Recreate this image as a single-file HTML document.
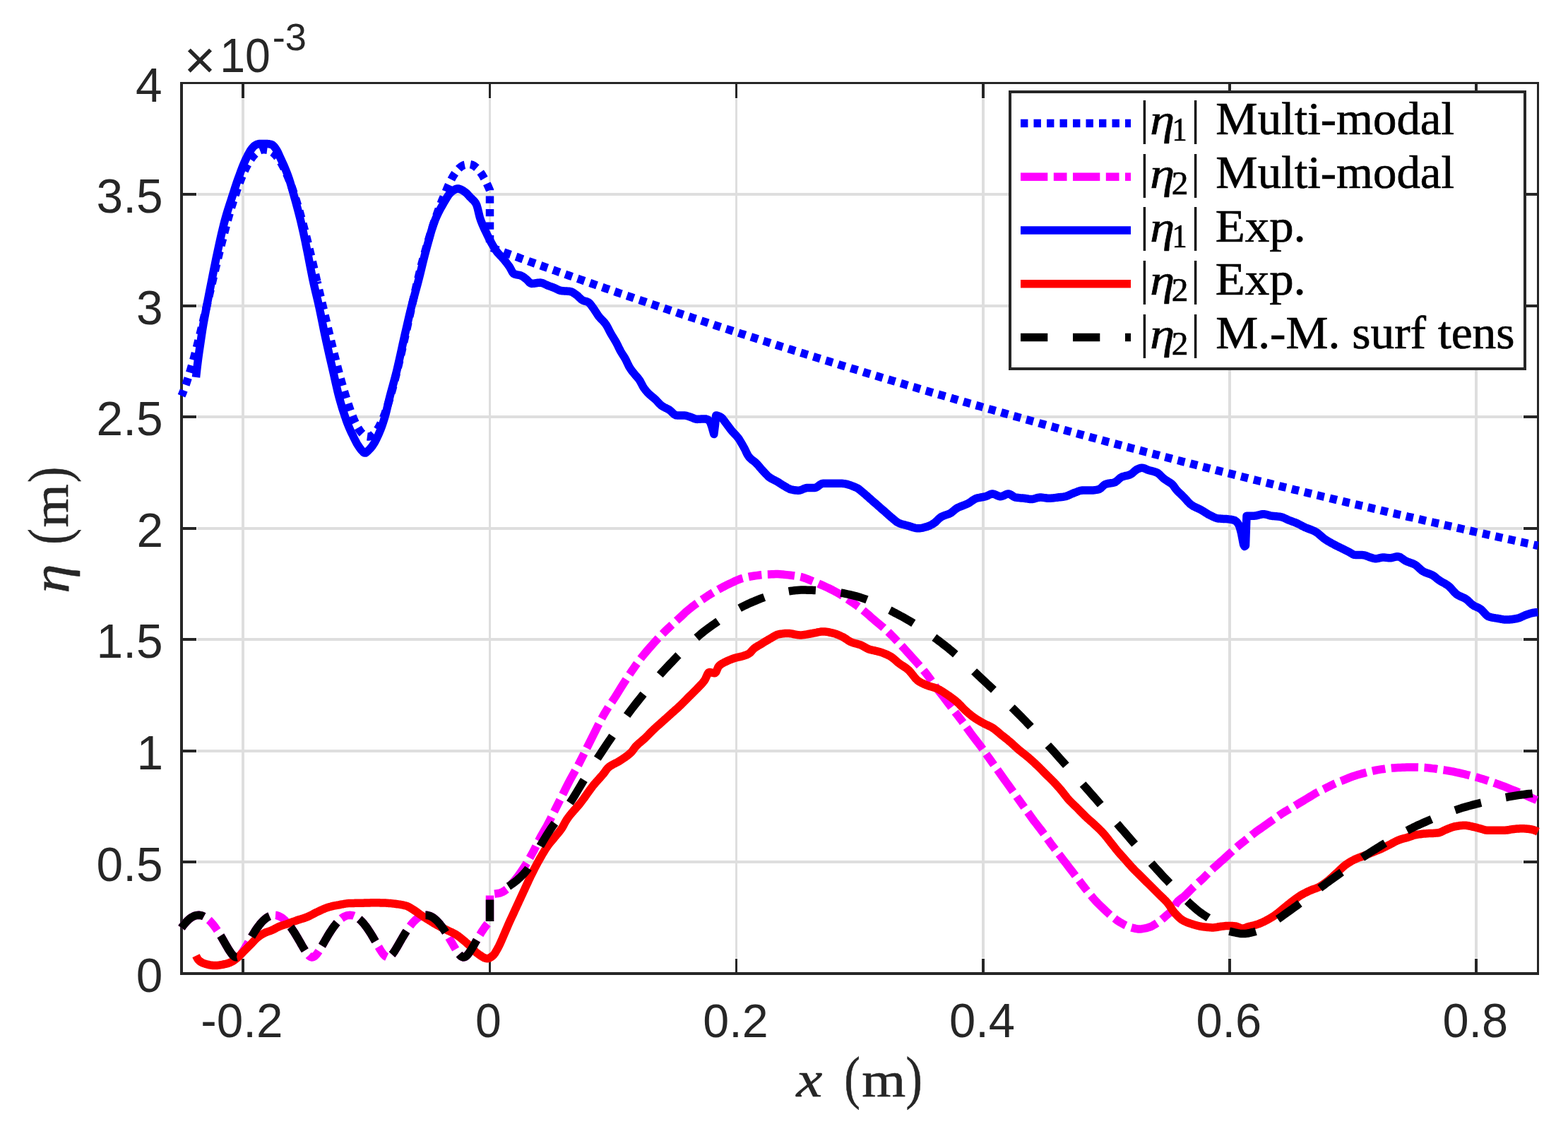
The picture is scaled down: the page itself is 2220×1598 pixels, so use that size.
<!DOCTYPE html>
<html lang="en"><head><meta charset="utf-8"><title>Wave amplitude: multi-modal model vs experiment</title>
<style>html,body{margin:0;padding:0;background:#fff}body{width:2220px;height:1598px;overflow:hidden}svg{display:block}</style></head><body>
<svg width="2220" height="1598" viewBox="0 0 2220 1598">
<rect width="2220" height="1598" fill="#fff"/>
<path d="M342 116h4V1380h-4zM692 116h3V1380h-3zM1041 116h3V1380h-3zM1390 116h4V1380h-4zM1739 116h4V1380h-4zM2088 116h4V1380h-4zM255 1218H2179v4H255zM255 1061H2179v4H255zM255 903H2179v4H255zM255 746H2179v4H255zM255 588H2179v4H255zM255 431H2179v4H255zM255 273H2179v4H255z" fill="#dedede"/>
<path d="M342 1356h4v1h-4zM342 139h4v1h-4zM692 1356h3v1h-3zM692 139h3v1h-3zM1041 1356h3v1h-3zM1041 139h3v1h-3zM1390 1356h4v1h-4zM1390 139h4v1h-4zM1739 1356h4v1h-4zM1739 139h4v1h-4zM2088 1356h4v1h-4zM2088 139h4v1h-4zM278 1218h1v4h-1zM2156 1218h1v4h-1zM278 1061h1v4h-1zM2156 1061h1v4h-1zM278 903h1v4h-1zM2156 903h1v4h-1zM278 746h1v4h-1zM2156 746h1v4h-1zM278 588h1v4h-1zM2156 588h1v4h-1zM278 431h1v4h-1zM2156 431h1v4h-1zM278 273h1v4h-1zM2156 273h1v4h-1z" fill="#fff"/>
<path d="M255 116H2179V1380H255zM259 119V1376H2176V119zM342 1357h4v19h-4zM342 119h4v20h-4zM692 1357h3v19h-3zM692 119h3v20h-3zM1041 1357h3v19h-3zM1041 119h3v20h-3zM1390 1357h4v19h-4zM1390 119h4v20h-4zM1739 1357h4v19h-4zM1739 119h4v20h-4zM2088 1357h4v19h-4zM2088 119h4v20h-4zM259 1218h19v4h-19zM2157 1218h19v4h-19zM259 1061h19v4h-19zM2157 1061h19v4h-19zM259 903h19v4h-19zM2157 903h19v4h-19zM259 746h19v4h-19zM2157 746h19v4h-19zM259 588h19v4h-19zM2157 588h19v4h-19zM259 431h19v4h-19zM2157 431h19v4h-19zM259 273h19v4h-19zM2157 273h19v4h-19z" fill="#262626" fill-rule="evenodd"/>
<g fill="none" stroke-width="11.5" stroke-linejoin="round" shape-rendering="auto">
<path d="M257 560.3L258.5 556.8L260 553L261.5 549L263 544.8L264.5 540.4L266 535.8L267.5 531.1L269 526.1L270.5 521L272 515.8L273.5 510.4L275 504.9L276.5 499.3L278 493.5L279.5 487.6L281 481.7L282.5 475.7L284 469.5L285.5 463.3L287 457.1L288.5 450.8L290 444.5L291.5 438.1L293 431.7L294.5 425.3L296 418.9L297.5 412.4L299 406L300.5 399.6L302 393.2L303.5 386.9L305 380.5L306.5 374.3L308 368L309.5 361.8L311 355.7L312.5 349.7L314 343.7L315.5 337.8L317 332L318.5 326.2L320 320.6L321.5 315.1L323 309.6L324.5 304.3L326 299.1L327.5 294L329 289L330.5 284.2L332 279.5L333.5 274.9L335 270.4L336.5 266.1L338 262L339.5 258L341 254.1L342.5 250.4L344 246.8L345.5 243.4L347 240.2L348.5 237.1L350 234.2L351.5 231.5L353 228.9L354.5 226.5L356 224.3L357.5 222.3L359 220.4L360.5 218.7L362 217.2L363.5 215.9L365 214.7L366.5 213.7L368 212.9L369.5 212.3L371 211.9L372.5 211.7L374 211.6L375.5 211.7L377 212.1L378.5 212.3L380 212.6L381.5 213.1L383 213.8L384.5 214.7L386 215.7L387.5 216.9L389 218.4L390.5 219.9L392 221.7L393.5 223.7L395 225.8L396.5 228.1L398 230.6L399.5 233.2L401 236L402.5 239L404 242.2L405.5 245.5L407 249L408.5 252.6L410 256.4L411.5 260.3L413 264.4L414.5 268.7L416 273.1L417.5 277.6L419 282.3L420.5 287.1L422 292.1L423.5 297.2L425 302.4L426.5 307.7L428 313.1L429.5 318.7L431 324.4L432.5 330.1L434 336L435.5 342L437 348L438.5 354.2L440 360.4L441.5 366.7L443 373.1L444.5 379.5L446 386L447.5 392.5L449 399.1" stroke="#0000ff" stroke-dasharray="10.4 8.1" stroke-dashoffset="2.0"/>
<path d="M449 399.1L450.5 405.4L452 411.8L453.5 418.1L455 424.5L456.5 430.9L458 437.3L459.5 443.7L461 450.1L462.5 456.5L464 462.8L465.5 469.1L467 475.4L468.5 481.7L470 487.9L471.5 494L473 500.1L474.5 506.1L476 512.1L477.5 517.9L479 523.7L480.5 529.3L482 534.9L483.5 540.3L485 545.6L486.5 550.8L488 555.8L489.5 560.7L491 565.4L492.5 570L494 574.6L495.5 579L497 583.2L498.5 587.2L500 591L501.5 594.6L503 597.9L504.5 601L506 603.9L507.5 606.5L509 608.8L510.5 610.9L512 612.7L513.5 614.3L515 615.6L516.5 616.6L518 617.3L519.5 617.8L521 618L522.5 617.9L524 617.6L525.5 617L527 616.1L528.5 614.9L530 613.4L531.5 611.7L533 609.8L534.5 607.5L536 605.1L537.5 602.3L539 599.4L540.5 596.2L542 592.7L543.5 589.1L545 585.2L546.5 580.9L548 576.4L549.5 571.8L551 566.9L552.5 561.8L554 556.5L555.5 551.1L557 545.5L558.5 539.8L560 533.9L561.5 527.9L563 521.8L564.5 515.5L566 509.2L567.5 502.8L569 496.3L570.5 489.7L572 483.1L573.5 476.4L575 469.7L576.5 463L578 456.2L579.5 449.4L581 442.7L582.5 435.9L584 429.1L585.5 422.4L587 415.6L588.5 409.0" stroke="#0000ff" stroke-dasharray="10.4 8.1" stroke-dashoffset="7.3"/>
<path d="M588.5 409L590 402.6L591.5 396.3L593 390L594.5 383.8L596 377.7L597.5 371.7L599 366.3L600.5 360.9L602 355.7L603.5 350.5L605 345.4L606.5 340.3L608 335.4L609.5 330.5L611 325.7L612.5 321L614 316.4L615.5 311.9L617 307.6L618.5 303.3L620 299.1L621.5 295L623 291.1L624.5 287.2L626 283.5L627.5 279.9L629 276.4L630.5 273.1L632 269.3L633.5 265.7L635 262.2L636.5 259L638 255.9L639.5 253L641 250.3L642.5 247.8L644 245.5L645.5 243.3L647 241.4L648.5 239.7L650 238.1L651.5 236.8L653 235.7L654.5 234.7L656 234L657.5 233.5L659 233.2L660.5 233L662 232.7L663.5 232.5L665 232.5L666.5 232.8L668 233.2L669.5 233.8L671 234.6L672.5 235.7L674 236.9L675.5 238.2L677 239.8L678.5 241.6L680 243.6L681.5 245.7L683 248L684.5 250.6L686 253.3L687.5 256.1L689 259.2L690.5 262.4L692 265.8L693.5 269.3L693.5 349.7" stroke="#0000ff" stroke-dasharray="10.4 8.1" stroke-dashoffset="3.3"/>
<path d="M693.5 349.7L697.5 351.2L701.5 352.7L705.5 354.1L709.5 355.6L713.5 357.1L717.5 358.5L721.5 360L725.5 361.4L729.5 362.9L733.5 364.3L737.5 365.8L741.5 367.2L745.5 368.6L749.5 370.1L753.5 371.5L757.5 373L761.5 374.4L765.5 375.8L769.5 377.2L773.5 378.7L777.5 380.1L781.5 381.5L785.5 382.9L789.5 384.4L793.5 385.8L797.5 387.2L801.5 388.6L805.5 390L809.5 391.4L813.5 392.8L817.5 394.2L821.5 395.6L825.5 397L829.5 398.4L833.5 399.8L837.5 401.2L841.5 402.6L845.5 404L849.5 405.4L853.5 406.8L857.5 408.2L861.5 409.5L865.5 410.9L869.5 412.3L873.5 413.7L877.5 415.1L881.5 416.4L885.5 417.8L889.5 419.2L893.5 420.5L897.5 421.9L901.5 423.3L905.5 424.6L909.5 426L913.5 427.3L917.5 428.7L921.5 430.1L925.5 431.4L929.5 432.8L933.5 434.1L937.5 435.4L941.5 436.8L945.5 438.1L949.5 439.5L953.5 440.8L957.5 442.1L961.5 443.5L965.5 444.8L969.5 446.1L973.5 447.5L977.5 448.8L981.5 450.1L985.5 451.4L989.5 452.8L993.5 454.1L997.5 455.4L1001.5 456.7L1005.5 458L1009.5 459.3L1013.5 460.7L1017.5 462L1021.5 463.3L1025.5 464.6L1029.5 465.9L1033.5 467.2L1037.5 468.5L1041.5 469.8L1045.5 471.1L1049.5 472.4L1053.5 473.6L1057.5 474.9L1061.5 476.2L1065.5 477.5L1069.5 478.8L1073.5 480.1L1077.5 481.4L1081.5 482.6L1085.5 483.9L1089.5 485.2L1093.5 486.5L1097.5 487.7L1101.5 489L1105.5 490.3L1109.5 491.5L1113.5 492.8L1117.5 494.1L1121.5 495.3L1125.5 496.6L1129.5 497.8L1133.5 499.1L1137.5 500.3L1141.5 501.6L1145.5 502.8L1149.5 504.1L1153.5 505.3L1157.5 506.6L1161.5 507.8L1165.5 509.1L1169.5 510.3L1173.5 511.5L1177.5 512.8L1181.5 514L1185.5 515.2L1189.5 516.5L1193.5 517.7L1197.5 518.9L1201.5 520.1L1205.5 521.4L1209.5 522.6L1213.5 523.8L1217.5 525L1221.5 526.2L1225.5 527.5L1229.5 528.7L1233.5 529.9L1237.5 531.1L1241.5 532.3L1245.5 533.5L1249.5 534.7L1253.5 535.9L1257.5 537.1L1261.5 538.3L1265.5 539.5L1269.5 540.7L1273.5 541.9L1277.5 543.1L1281.5 544.3L1285.5 545.5L1289.5 546.7L1293.5 547.8L1297.5 549L1301.5 550.2L1305.5 551.4L1309.5 552.6L1313.5 553.7L1317.5 554.9L1321.5 556.1L1325.5 557.3L1329.5 558.4L1333.5 559.6L1337.5 560.8L1341.5 561.9L1345.5 563.1L1349.5 564.3L1353.5 565.4L1357.5 566.6L1361.5 567.7L1365.5 568.9L1369.5 570L1373.5 571.2L1377.5 572.3L1381.5 573.5L1385.5 574.6L1389.5 575.8L1393.5 576.9L1397.5 578.1L1401.5 579.2L1405.5 580.3L1409.5 581.5L1413.5 582.6L1417.5 583.8L1421.5 584.9L1425.5 586L1429.5 587.1L1433.5 588.3L1437.5 589.4L1441.5 590.5L1445.5 591.6L1449.5 592.8L1453.5 593.9L1457.5 595L1461.5 596.1L1465.5 597.2L1469.5 598.3L1473.5 599.5L1477.5 600.6L1481.5 601.7L1485.5 602.8L1489.5 603.9L1493.5 605L1497.5 606.1L1501.5 607.2L1505.5 608.3L1509.5 609.4L1513.5 610.5L1517.5 611.6L1521.5 612.7L1525.5 613.8L1529.5 614.9L1533.5 615.9L1537.5 617L1541.5 618.1L1545.5 619.2L1549.5 620.3L1553.5 621.4L1557.5 622.4L1561.5 623.5L1565.5 624.6L1569.5 625.7L1573.5 626.7L1577.5 627.8L1581.5 628.9L1585.5 629.9L1589.5 631L1593.5 632.1L1597.5 633.1L1601.5 634.2L1605.5 635.3L1609.5 636.3L1613.5 637.4L1617.5 638.4L1621.5 639.5L1625.5 640.5L1629.5 641.6L1633.5 642.6L1637.5 643.7L1641.5 644.7L1645.5 645.8L1649.5 646.8L1653.5 647.9L1657.5 648.9L1661.5 650L1665.5 651L1669.5 652L1673.5 653.1L1677.5 654.1L1681.5 655.1L1685.5 656.2L1689.5 657.2L1693.5 658.2L1697.5 659.2L1701.5 660.3L1705.5 661.3L1709.5 662.3L1713.5 663.3L1717.5 664.3L1721.5 665.4L1725.5 666.4L1729.5 667.4L1733.5 668.4L1737.5 669.4L1741.5 670.4L1745.5 671.4L1749.5 672.4L1753.5 673.5L1757.5 674.5L1761.5 675.5L1765.5 676.5L1769.5 677.5L1773.5 678.5L1777.5 679.5L1781.5 680.5L1785.5 681.4L1789.5 682.4L1793.5 683.4L1797.5 684.4L1801.5 685.4L1805.5 686.4L1809.5 687.4L1813.5 688.4L1817.5 689.4L1821.5 690.3L1825.5 691.3L1829.5 692.3L1833.5 693.3L1837.5 694.2L1841.5 695.2L1845.5 696.2L1849.5 697.2L1853.5 698.1L1857.5 699.1L1861.5 700.1L1865.5 701L1869.5 702L1873.5 703L1877.5 703.9L1881.5 704.9L1885.5 705.9L1889.5 706.8L1893.5 707.8L1897.5 708.7L1901.5 709.7L1905.5 710.6L1909.5 711.6L1913.5 712.5L1917.5 713.5L1921.5 714.4L1925.5 715.4L1929.5 716.3L1933.5 717.3L1937.5 718.2L1941.5 719.1L1945.5 720.1L1949.5 721L1953.5 722L1957.5 722.9L1961.5 723.8L1965.5 724.8L1969.5 725.7L1973.5 726.6L1977.5 727.6L1981.5 728.5L1985.5 729.4L1989.5 730.3L1993.5 731.3L1997.5 732.2L2001.5 733.1L2005.5 734L2009.5 734.9L2013.5 735.8L2017.5 736.8L2021.5 737.7L2025.5 738.6L2029.5 739.5L2033.5 740.4L2037.5 741.3L2041.5 742.2L2045.5 743.1L2049.5 744L2053.5 744.9L2057.5 745.8L2061.5 746.7L2065.5 747.6L2069.5 748.5L2073.5 749.4L2077.5 750.3L2081.5 751.2L2085.5 752.1L2089.5 753L2093.5 753.9L2097.5 754.8L2101.5 755.7L2105.5 756.6L2109.5 757.5L2113.5 758.3L2117.5 759.2L2121.5 760.1L2125.5 761L2129.5 761.9L2133.5 762.8L2137.5 763.6L2141.5 764.5L2145.5 765.4L2149.5 766.3L2153.5 767.1L2157.5 768L2161.5 768.9L2165.5 769.7L2169.5 770.6L2173.5 771.5L2177.5 772.3L2177.5 772.3" stroke="#0000ff" stroke-dasharray="10.4 8.1" stroke-dashoffset="16.0"/>
<path d="M257 1313.3L258.5 1311.2L260 1309.3L261.5 1307.4L263 1305.7L264.5 1304.1L266 1302.6L267.5 1301.2L269 1300L270.5 1298.9L272 1298L273.5 1297.2L275 1296.5L276.5 1296L278 1295.6L279.5 1295.4L281 1295.3L282.5 1295.3L284 1295.6L285.5 1295.9L287 1296.4L288.5 1297.1L290 1297.9L291.5 1298.8L293 1299.9L294.5 1301.1L296 1302.4L297.5 1303.9L299 1305.5L300.5 1307.2L302 1309L303.5 1311L305 1313L306.5 1315.2L308 1317.4L309.5 1319.8L311 1322.2L312.5 1324.6L314 1327.2L315.5 1329.7L317 1332.3L318.5 1335L320 1337.6L321.5 1340.2L323 1342.7L324.5 1345.1L326 1347.4L327.5 1349.5L329 1351.4L330.5 1352.9L332 1354.1L333.5 1354.7L335 1354.9L336.5 1354.5L338 1353.7L339.5 1352.4L341 1350.7L342.5 1348.7L344 1346.5L345.5 1344.2L347 1341.7L348.5 1339.1L350 1336.5L351.5 1333.9L353 1331.3L354.5 1328.7L356 1326.1L357.5 1323.6L359 1321.2L360.5 1318.8L362 1316.5L363.5 1314.3L365 1312.2L366.5 1310.2L368 1308.3L369.5 1306.5L371 1304.8L372.5 1303.3L374 1301.9L375.5 1300.6L377 1299.4L378.5 1298.4L380 1297.5L381.5 1296.8L383 1296.2L384.5 1295.8L386 1295.5L387.5 1295.3L389 1295.3L390.5 1295.4L392 1295.7L393.5 1296.2L395 1296.7L396.5 1297.5L398 1298.3L399.5 1299.3L401 1300.5L402.5 1301.8L404 1303.2L405.5 1304.7L407 1306.4L408.5 1308.2L410 1310.1L411.5 1312.1L413 1314.2L414.5 1316.4L416 1318.7L417.5 1321L419 1323.5L420.5 1326L422 1328.5L423.5 1331.1L425 1333.7L426.5 1336.4L428 1339L429.5 1341.5L431 1344L432.5 1346.4L434 1348.6L435.5 1350.6L437 1352.3L438.5 1353.6L440 1354.5L441.5 1354.9L443 1354.8L444.5 1354.1L446 1353L447.5 1351.5L449 1349.7L450.5 1347.6L452 1345.3L453.5 1342.9L455 1340.3L456.5 1337.8L458 1335.1L459.5 1332.5L461 1329.9L462.5 1327.3L464 1324.8L465.5 1322.3L467 1319.9L468.5 1317.6L470 1315.3L471.5 1313.2L473 1311.1L474.5 1309.2L476 1307.3L477.5 1305.6L479 1304L480.5 1302.5L482 1301.2L483.5 1299.9L485 1298.9L486.5 1297.9L488 1297.1L489.5 1296.5L491 1295.9L492.5 1295.6L494 1295.4L495.5 1295.3L497 1295.4L498.5 1295.6L500 1295.9L501.5 1296.5L503 1297.1L504.5 1297.9L506 1298.9L507.5 1299.9L509 1301.2L510.5 1302.5L512 1304L513.5 1305.6L515 1307.3L516.5 1309.2L518 1311.1L519.5 1313.2L521 1315.3L522.5 1317.6L524 1319.9L525.5 1322.3L527 1324.8L528.5 1327.3L530 1329.9L531.5 1332.5L533 1335.1L534.5 1337.8L536 1340.3L537.5 1342.9L539 1345.3L540.5 1347.6L542 1349.7L543.5 1351.5L545 1353L546.5 1354.1L548 1354.8L549.5 1354.9L551 1354.5L552.5 1353.6L554 1352.3L555.5 1350.6L557 1348.6L558.5 1346.4L560 1344L561.5 1341.5L563 1339L564.5 1336.4L566 1333.7L567.5 1331.1L569 1328.5L570.5 1326L572 1323.5L573.5 1321L575 1318.7L576.5 1316.4L578 1314.2L579.5 1312.1L581 1310.1L582.5 1308.2L584 1306.4L585.5 1304.7L587 1303.2L588.5 1301.8L590 1300.5L591.5 1299.3L593 1298.3L594.5 1297.5L596 1296.7L597.5 1296.2L599 1295.7L600.5 1295.4L602 1295.3L603.5 1295.3L605 1295.5L606.5 1295.8L608 1296.2L609.5 1296.8L611 1297.5L612.5 1298.4L614 1299.4L615.5 1300.6L617 1301.9L618.5 1303.3L620 1304.8L621.5 1306.5L623 1308.3L624.5 1310.2L626 1312.2L627.5 1314.3L629 1316.5L630.5 1318.8L632 1321.2L633.5 1323.6L635 1326.1L636.5 1328.7L638 1331.3L639.5 1333.9L641 1336.5L642.5 1339.1L644 1341.7L645.5 1344.2L647 1346.5L648.5 1348.7L650 1350.7L651.5 1352.4L653 1353.7L654.5 1354.5L656 1354.9L657.5 1354.7L659 1354.1L660.5 1352.9L662 1351.4L663.5 1349.5L665 1347.4L666.5 1345.1L668 1342.7L669.5 1340.2L671 1337.6L672.5 1335L674 1332.3L675.5 1329.7L677 1327.2L678.5 1324.6L680 1322.2L681.5 1319.8L683 1317.4L684.5 1315.2L686 1313L687.5 1311L689 1309L690.5 1307.2L692 1305.5L693.5 1303.9" stroke="#ff00ff" stroke-dasharray="39.1 8.7 19.1 8.7"/>
<path d="M693.5 1303.9L693.5 1265.8L696.5 1265.6L699.5 1265.3L702.5 1264.9L705.5 1264.5L708.5 1263.8L711.5 1262.5L714.5 1260.7L717.5 1258.4L720.5 1255.5L723.5 1252.1L726.5 1248.7L729.5 1245.1L732.5 1241.3L735.4 1237.3L738.4 1233L741.4 1228.5L744.4 1223.8L747.4 1218.9L750.4 1213.7L753.4 1208.3L756.4 1202.7L759.4 1196.6L762.4 1190.5L765.4 1184.6L768.4 1179.3L771.4 1174.2L774.4 1169L777.4 1163.3L780.4 1157.3L783.4 1151.1L786.4 1145.1L789.4 1139.1L792.4 1133.1L795.4 1127.1L798.4 1121.1L801.4 1115L804.4 1109.1L807.4 1103.4L810.4 1097.9L813.4 1092.6L816.4 1087.1L819.4 1081.6L822.4 1075.7L825.4 1069.7L828.4 1063.7L831.4 1057.6L834.4 1051.6L837.4 1045.6L840.4 1039.7L843.4 1033.6L846.4 1027.5L849.4 1021.6L852.4 1016L855.4 1010.7L858.4 1005.6L861.4 1000.7L864.4 996.2L867.4 991.9L870.4 987.3L873.4 982.6L876.4 977.7L879.4 972.9L882.4 968.1L885.4 963.5L888.3 959L891.3 954.5L894.3 950.1L897.3 945.7L900.3 941.4L903.3 937.2L906.3 933.1L909.3 929.3L912.3 925.6L915.3 922L918.3 918.5L921.3 915.1L924.3 911.7L927.3 908.4L930.3 905.1L933.3 902L936.3 898.9L939.3 895.9L942.3 892.9L945.3 890L948.3 887.2L951.3 884.4L954.3 881.7L957.3 879L960.3 876.3L963.3 873.5L966.3 870.7L969.3 867.8L972.3 865.1L975.3 862.6L978.3 860.2L981.3 857.8L984.3 855.6L987.3 853.5L990.3 851.3L993.3 849.2L996.3 847.2L999.3 845.2L1002.3 843.2L1005.3 841.3L1008.3 839.5L1011.3 837.7L1014.3 835.9L1017.3 834.2L1020.3 832.6L1023.3 831L1026.3 829.5L1029.3 827.9L1032.3 826.5L1035.3 825.1L1038.3 823.7L1041.2 822.3L1044.2 821L1047.2 819.8L1050.2 818.8L1053.2 818L1056.2 817.3L1059.2 816.6L1062.2 816L1065.2 815.5L1068.2 815L1071.2 814.6L1074.2 814.2L1077.2 813.8L1080.2 813.5L1083.2 813.2L1086.2 813L1089.2 812.9L1092.2 812.8L1095.2 812.7L1098.2 812.6L1101.2 812.6L1104.2 812.7L1107.2 812.9L1110.2 813.3L1113.2 813.6L1116.2 813.9L1119.2 814.2L1122.2 814.6L1125.2 815L1128.2 815.5L1131.2 816L1134.2 816.6L1137.2 817.5L1140.2 818.5L1143.2 819.7L1146.2 820.9L1149.2 822.1L1152.2 823.3L1155.2 824.5L1158.2 825.8L1161.2 827.1L1164.2 828.4L1167.2 829.7L1170.2 831.1L1173.2 832.5L1176.2 834L1179.2 835.5L1182.2 837.1L1185.2 838.7L1188.2 840.4L1191.1 842.3L1194.1 844.2L1197.1 846.2L1200.1 848.2L1203.1 850.2L1206.1 852.3L1209.1 854.3L1212.1 856.4L1215.1 858.6L1218.1 860.8L1221.1 863.1L1224.1 865.6L1227.1 868.1L1230.1 870.7L1233.1 873.4L1236.1 876L1239.1 878.6L1242.1 881.1L1245.1 883.6L1248.1 886.1L1251.1 888.7L1254.1 891.4L1257.1 894.1L1260.1 897L1263.1 900L1266.1 903.1L1269.1 906.2L1272.1 909.3L1275.1 912.5L1278.1 915.7L1281.1 919L1284.1 922.3L1287.1 925.6L1290.1 929L1293.1 932.3L1296.1 935.6L1299.1 939L1302.1 942.4L1305.1 945.9L1308.1 949.5L1311.1 953.2L1314.1 957L1317.1 961.2L1320.1 965.5L1323.1 969.8L1326.1 973.9L1329.1 977.9L1332.1 981.7L1335.1 985.6L1338.1 989.5L1341.1 993.4L1344 997.3L1347 1001.1L1350 1005L1353 1008.9L1356 1012.8L1359 1016.7L1362 1020.6L1365 1024.7L1368 1029L1371 1033.2L1374 1037.4L1377 1041.4L1380 1045.3L1383 1049.1L1386 1053L1389 1057L1392 1061.2L1395 1065.4L1398 1069.7L1401 1073.9L1404 1078.1L1407 1082.3L1410 1086.5L1413 1090.7L1416 1094.9L1419 1099.1L1422 1103.3L1425 1107.5L1428 1111.7L1431 1115.9L1434 1120.1L1437 1124.3L1440 1128.5L1443 1132.7L1446 1136.9L1449 1141L1452 1145.3L1455 1149.5L1458 1153.7L1461 1157.9L1464 1162L1467 1165.8L1470 1169.7L1473 1173.5L1476 1177.5L1479 1181.7L1482 1186L1485 1190.2L1488 1194.4L1491 1198.3L1494 1202.2L1496.9 1206.1L1499.9 1209.9L1502.9 1213.8L1505.9 1217.7L1508.9 1221.6L1511.9 1225.5L1514.9 1229.4L1517.9 1233.3L1520.9 1237.2L1523.9 1241.1L1526.9 1245L1529.9 1249L1532.9 1252.9L1535.9 1256.8L1538.9 1260.5L1541.9 1264.3L1544.9 1267.9L1547.9 1271.5L1550.9 1274.8L1553.9 1278L1556.9 1281L1559.9 1283.9L1562.9 1286.7L1565.9 1289.6L1568.9 1292.4L1571.9 1295.1L1574.9 1297.6L1577.9 1299.9L1580.9 1302.2L1583.9 1304.3L1586.9 1306.1L1589.9 1307.8L1592.9 1309.4L1595.9 1310.8L1598.9 1312L1601.9 1312.9L1604.9 1313.7L1607.9 1314.4L1610.9 1314.9L1613.9 1314.9L1616.9 1314.7L1619.9 1314.2L1622.9 1313.6L1625.9 1312.8L1628.9 1311.8L1631.9 1310.3L1634.9 1308.6L1637.9 1306.7L1640.9 1304.7L1643.9 1302.4L1646.8 1299.9L1649.8 1297.2L1652.8 1294.7L1655.8 1292.2L1658.8 1289.5L1661.8 1285.8L1664.8 1279.4L1667.8 1275.6L1670.8 1272.9L1673.8 1270.8L1676.8 1268.5L1679.8 1265.6L1682.8 1262.5L1685.8 1259.5L1688.8 1256.5L1691.8 1253.7L1694.8 1251L1697.8 1248.3L1700.8 1245.7L1703.8 1242.8L1706.8 1239.8L1709.8 1236.8L1712.8 1233.7L1715.8 1230.8L1718.8 1228.1L1721.8 1225.4L1724.8 1222.8L1727.8 1220.1L1730.8 1217.4L1733.8 1214.7L1736.8 1212L1739.8 1209.3L1742.8 1206.6L1745.8 1203.8L1748.8 1201.1L1751.8 1198.5L1754.8 1195.9L1757.8 1193.5L1760.8 1191.2L1763.8 1188.8L1766.8 1186.4L1769.8 1184L1772.8 1181.5L1775.8 1179.2L1778.8 1176.9L1781.8 1174.8L1784.8 1172.7L1787.8 1170.6L1790.8 1168.5L1793.8 1166.4L1796.8 1164.3L1799.7 1162.2L1802.7 1160.1L1805.7 1158L1808.7 1155.9L1811.7 1153.8L1814.7 1151.7L1817.7 1149.8L1820.7 1148L1823.7 1146.3L1826.7 1144.5L1829.7 1142.7L1832.7 1140.9L1835.7 1139.1L1838.7 1137.3L1841.7 1135.5L1844.7 1133.7L1847.7 1131.9L1850.7 1130.1L1853.7 1128.3L1856.7 1126.5L1859.7 1124.6L1862.7 1122.8L1865.7 1121.2L1868.7 1119.6L1871.7 1118.1L1874.7 1116.7L1877.7 1115.2L1880.7 1113.7L1883.7 1112.1L1886.7 1110.6L1889.7 1109.2L1892.7 1107.9L1895.7 1106.6L1898.7 1105.5L1901.7 1104.3L1904.7 1103.1L1907.7 1101.9L1910.7 1100.6L1913.7 1099.5L1916.7 1098.4L1919.7 1097.5L1922.7 1096.6L1925.7 1095.7L1928.7 1094.9L1931.7 1094.1L1934.7 1093.3L1937.7 1092.5L1940.7 1091.8L1943.7 1091.1L1946.7 1090.5L1949.7 1089.9L1952.6 1089.4L1955.6 1088.9L1958.6 1088.5L1961.6 1088L1964.6 1087.7L1967.6 1087.4L1970.6 1087.1L1973.6 1086.9L1976.6 1086.7L1979.6 1086.5L1982.6 1086.4L1985.6 1086.3L1988.6 1086.2L1991.6 1086.1L1994.6 1086L1997.6 1085.9L2000.6 1085.9L2003.6 1085.9L2006.6 1085.9L2009.6 1086L2012.6 1086.2L2015.6 1086.4L2018.6 1086.6L2021.6 1086.9L2024.6 1087.2L2027.6 1087.6L2030.6 1087.9L2033.6 1088.3L2036.6 1088.8L2039.6 1089.2L2042.6 1089.7L2045.6 1090.1L2048.6 1090.6L2051.6 1091.1L2054.6 1091.7L2057.6 1092.2L2060.6 1092.8L2063.6 1093.5L2066.6 1094.1L2069.6 1094.8L2072.6 1095.5L2075.6 1096.3L2078.6 1097L2081.6 1097.8L2084.6 1098.5L2087.6 1099.3L2090.6 1100.1L2093.6 1101L2096.6 1101.9L2099.6 1102.8L2102.5 1103.7L2105.5 1104.7L2108.5 1105.7L2111.5 1106.7L2114.5 1107.8L2117.5 1108.8L2120.5 1109.9L2123.5 1111L2126.5 1112.1L2129.5 1113.2L2132.5 1114.4L2135.5 1115.6L2138.5 1116.8L2141.5 1118L2144.5 1119.2L2147.5 1120.4L2150.5 1121.6L2153.5 1122.8L2156.5 1124.1L2159.5 1125.4L2162.5 1126.8L2165.5 1128.1L2168.5 1129.4L2171.5 1130.7L2174.5 1132L2177.5 1133.2" stroke="#ff00ff" stroke-dasharray="38.3 8.5 18.7 8.5" stroke-dashoffset="2"/>
<path d="M277.5 534L279 520.6L280.5 508.5L282 497.8L283.5 487.7L285 477.4L286.5 467.4L288 458.3L289.5 450.1L291 442.1L292.5 434.2L294 426.3L295.5 418.6L297 410.9L298.5 403.3L300 395.8L301.5 388.2L303 380.7L304.5 373.3L306 366L307.5 358.9L309 351.9L310.5 345.1L312 338.3L313.5 331.6L315 325.2L316.5 319L318 313.2L319.5 307.8L321 302.6L322.5 297.7L324 293L325.5 288.3L327 283.7L328.5 279.1L330 274.4L331.5 269.7L333 265.1L334.5 260.6L336 256.2L337.5 252L339 247.9L340.5 243.8L342 239.8L343.5 235.9L345 232.2L346.5 228.7L348 225.5L349.5 222.4L351 219.4L352.5 216.6L354 214L355.5 211.7L357 209.7L358.5 208L360 206.5L361.5 205.5L363 204.7L364.5 204.1L366 203.6L367.5 203.4L369 203.4L370.5 203.4L372 203.4L373.5 203.4L375 203.4L376.5 203.4L378 203.4L379.5 203.6L381 203.8L382.5 204.1L384 204.4L385.5 205L387 206.2L388.5 207.9L390 209.8L391.5 212.1L393 214.8L394.5 218L396 221.3L397.5 224.6L399 227.9L400.5 231.2L402 234.5L403.5 238L405 241.6L406.5 245.4L408 249.5L409.5 253.9L411 258.6L412.5 263.7L414 269L415.5 274.3L417 279.6L418.5 284.9L420 290.4L421.5 296L423 301.7L424.5 307.6L426 313.7L427.5 320.1L429 326.7L430.5 333.6L432 340.6L433.4 347.7L434.9 354.9L436.4 362.4L437.9 370.1L439.4 377.9L440.9 385.5L442.4 393L443.9 400.1L445.4 406.8L446.9 413.1L448.4 419.3L449.9 425.6L451.4 432.2L452.9 439.2L454.4 446.5L455.9 453.9L457.4 461.4L458.9 468.8L460.4 475.9L461.9 482.8L463.4 489.6L464.9 496.2L466.4 502.9L467.9 509.5L469.4 516L470.9 522.5L472.4 529.1L473.9 535.8L475.4 542.5L476.9 549.1L478.4 555.4L479.9 561.3L481.4 566.8L482.9 572L484.4 577L485.9 581.7L487.4 586.3L488.9 590.8L490.4 595.2L491.9 599.2L493.4 603L494.9 606.5L496.4 609.8L497.9 613L499.4 616.1L500.9 619.3L502.4 622.3L503.9 625.2L505.4 628L506.9 630.4L508.4 632.7L509.9 634.8L511.4 636.8L512.9 638.4L514.4 640L515.9 641.1L517.4 641.1L518.9 640.1L520.4 638.7L521.9 637.3L523.4 635.8L524.9 634.1L526.4 632.3L527.9 630.2L529.4 627.9L530.9 625.3L532.4 622.4L533.9 619.3L535.4 616.1L536.9 612.7L538.4 609.1L539.9 605.2L541.4 601L542.9 596.5L544.4 591.8L545.9 586.5L547.4 580.5L548.9 574.1L550.4 567.7L551.9 561.6L553.4 555.9L554.9 550.4L556.4 545L557.9 539.5L559.4 533.9L560.9 528.1L562.4 522L563.9 515.6L565.4 509L566.9 502.2L568.4 495.4L569.9 488.5L571.4 481.8L572.9 475.1L574.4 468.6L575.9 462.1L577.4 455.6L578.9 449.1L580.4 442.8L581.9 436.7L583.4 430.7L584.9 425L586.4 419.4L587.9 414L589.4 408.5L590.9 403L592.4 397.3L593.9 391.3L595.4 385.3L596.9 379.1L598.4 373L599.9 366.9L601.4 360.9L602.9 355.2L604.4 349.6L605.9 344.2L607.4 338.7L608.9 333.3L610.4 328.1L611.9 323.1L613.4 318.5L614.9 314.3L616.4 310.5L617.9 307L619.4 303.7L620.9 300.6L622.4 297.7L623.9 294.9L625.4 292.2L626.9 289.6L628.4 287L629.9 284.4L631.4 281.8L632.9 279.3L634.4 277L635.9 274.9L637.4 273.3L638.9 272L640.4 270.7L641.9 269.6L643.4 268.6L644.9 267.7L646.4 267.2L647.9 267L649.4 267.1L650.9 267.5L652.4 268.1L653.9 268.9L655.4 269.8L656.9 270.7L658.4 271.7L659.9 272.9L661.4 274.4L662.9 276L664.4 277.7L665.9 279.3L667.4 280.8L668.9 282.2L670.4 283.6L671.9 285.3L673.4 287.4L674.9 290.3L676.4 295.5L677.9 301.9L679.4 308L680.9 312.4L682.4 316.2L683.9 319.7L685.4 323L686.9 326.2L688.4 329.4L689.9 332.5L691.4 335.6L692.9 338.5L694.4 341.4L695.9 344.1L697.4 346.8L698.9 349.4L700.4 351.9L701.9 354.1L703.4 356.2L704.9 358L706.4 359.6L707.9 361.2L709.4 362.8L710.9 364.4L712.4 366.1L713.9 367.9L715.4 369.8L716.9 371.6L718.4 373.6L719.9 375.6L721.4 377.7L722.9 380.3L724.4 383.2L725.9 385.9L727.4 387.5L728.9 388.1L730.4 388.5L731.9 388.8L733.4 389.1L734.9 389.4L736.4 389.7L737.9 390.2L739.4 391L740.9 391.9L742.4 393L743.9 394.2L745.3 395.3L746.8 396.8L748.3 398.4L749.8 400L751.3 401L752.8 401.4L754.3 401.3L755.8 401.2L757.3 401L758.8 400.8L760.3 400.5L761.8 400.3L763.3 400.2L764.8 400.1L766.3 400.2L767.8 400.6L769.3 401.2L770.8 401.9L772.3 402.6L773.8 403.3L775.3 404L776.8 404.5L778.3 405.1L779.8 405.6L781.3 406.2L782.8 406.7L784.3 407.3L785.8 407.9L787.3 408.7L788.8 409.4L790.3 410.2L791.8 410.8L793.3 411.3L794.8 411.5L796.3 411.7L797.8 411.8L799.3 411.9L800.8 412L802.3 412.1L803.8 412.2L805.3 412.3L806.8 412.5L808.3 412.8L809.8 413.3L811.3 414.1L812.8 415.1L814.3 416.2L815.8 417.2L817.3 418.3L818.8 419.7L820.3 421.2L821.8 422.6L823.3 424L824.8 425L826.3 425.6L827.8 426.1L829.3 426.5L830.8 426.9L832.3 427.5L833.8 428.4L835.3 429.9L836.8 431.8L838.3 433.8L839.8 435.9L841.3 438L842.8 440.3L844.3 442.6L845.8 445L847.3 447.2L848.8 449L850.3 450.7L851.8 452.3L853.3 453.8L854.8 455.4L856.3 457.1L857.8 459.1L859.3 461.5L860.8 464.2L862.3 467.2L863.8 470.1L865.3 472.9L866.8 475.4L868.3 477.8L869.8 480.2L871.3 482.7L872.8 485.4L874.3 488.3L875.8 491.4L877.3 494.5L878.8 497.4L880.3 499.9L881.8 502.3L883.3 504.5L884.8 507L886.3 509.8L887.8 512.9L889.3 516.1L890.8 519.1L892.3 521.5L893.8 523.7L895.3 525.7L896.8 527.5L898.3 529.4L899.8 531.2L901.3 532.9L902.8 534.6L904.3 536.5L905.8 538.6L907.3 541.3L908.8 544.2L910.3 547L911.8 549.4L913.3 551.4L914.8 553.3L916.3 555L917.8 556.6L919.3 558L920.8 559.4L922.3 560.6L923.8 561.9L925.3 563.1L926.8 564.4L928.3 565.8L929.8 567.3L931.3 569L932.8 570.6L934.3 572.1L935.8 573.5L937.3 574.6L938.8 575.5L940.3 576.4L941.8 577.1L943.3 577.9L944.8 578.6L946.3 579.4L947.8 580.3L949.3 581.5L950.8 582.9L952.3 584.4L953.8 585.8L955.3 586.9L956.8 587.7L958.3 587.9L959.8 587.9L961.3 587.9L962.8 587.9L964.3 587.9L965.8 587.9L967.3 587.9L968.8 587.9L970.3 588.1L971.8 588.4L973.3 588.9L974.8 589.4L976.3 589.9L977.8 590.3L979.3 590.9L980.8 591.5L982.3 592.2L983.8 592.8L985.3 593.2L986.8 593.4L988.3 593.3L989.8 593.3L991.3 593.2L992.8 593.1L994.3 593L995.8 592.9L997.3 592.9L998.8 592.9L1000.3 593.3L1001.8 593.9L1003.3 594.8L1004.8 596.1L1006.3 599.5L1007.8 603.7L1009.3 609.1L1010.8 614.6L1012.3 602.8L1013.8 587.9L1015.3 588.2L1016.8 588.7L1018.3 589.3L1019.8 590L1021.3 590.9L1022.8 592.3L1024.3 594.2L1025.8 596.2L1027.3 598.3L1028.8 600.2L1030.3 602.2L1031.8 604.2L1033.3 606.3L1034.8 608.3L1036.3 610.1L1037.8 611.8L1039.3 613.4L1040.8 614.9L1042.3 616.5L1043.8 618.2L1045.3 620.1L1046.8 622.3L1048.3 624.7L1049.8 627.2L1051.3 629.9L1052.8 632.5L1054.3 635.3L1055.8 638.3L1057.2 641.4L1058.7 644.1L1060.2 646.4L1061.7 648.1L1063.2 649.5L1064.7 650.8L1066.2 651.9L1067.7 653.1L1069.2 654.3L1070.7 655.7L1072.2 657.3L1073.7 658.9L1075.2 660.7L1076.7 662.5L1078.2 664.2L1079.7 665.9L1081.2 667.5L1082.7 669.1L1084.2 670.8L1085.7 672.3L1087.2 673.8L1088.7 675.1L1090.2 676.1L1091.7 677.1L1093.2 677.9L1094.7 678.7L1096.2 679.5L1097.7 680.2L1099.2 681L1100.7 681.9L1102.2 682.8L1103.7 683.7L1105.2 684.7L1106.7 685.7L1108.2 686.6L1109.7 687.5L1111.2 688.4L1112.7 689.3L1114.2 690.2L1115.7 691L1117.2 691.8L1118.7 692.5L1120.2 692.9L1121.7 693.2L1123.2 693.5L1124.7 693.7L1126.2 694L1127.7 694.1L1129.2 694.2L1130.7 694.2L1132.2 694.1L1133.7 693.6L1135.2 693.1L1136.7 692.4L1138.2 691.7L1139.7 691.2L1141.2 690.7L1142.7 690.5L1144.2 690.5L1145.7 690.5L1147.2 690.5L1148.7 690.5L1150.2 690.5L1151.7 690.5L1153.2 690.5L1154.7 690.2L1156.2 689.5L1157.7 688.6L1159.2 687.5L1160.7 686.3L1162.2 685.4L1163.7 684.6L1165.2 684.2L1166.7 684.2L1168.2 684.2L1169.7 684.2L1171.2 684.2L1172.7 684.2L1174.2 684.2L1175.7 684.2L1177.2 684.2L1178.7 684.2L1180.2 684.2L1181.7 684.2L1183.2 684.2L1184.7 684.2L1186.2 684.2L1187.7 684.2L1189.2 684.2L1190.7 684.2L1192.2 684.3L1193.7 684.4L1195.2 684.6L1196.7 684.8L1198.2 685.2L1199.7 685.5L1201.2 686L1202.7 686.4L1204.2 686.9L1205.7 687.5L1207.2 688.1L1208.7 688.7L1210.2 689.3L1211.7 689.9L1213.2 690.6L1214.7 691.4L1216.2 692.5L1217.7 693.7L1219.2 695L1220.7 696.2L1222.2 697.5L1223.7 698.7L1225.2 700L1226.7 701.3L1228.2 702.7L1229.7 704L1231.2 705.3L1232.7 706.7L1234.2 708L1235.7 709.3L1237.2 710.6L1238.7 711.9L1240.2 713.2L1241.7 714.5L1243.2 715.9L1244.7 717.2L1246.2 718.5L1247.7 719.8L1249.2 721.1L1250.7 722.4L1252.2 723.7L1253.7 725L1255.2 726.4L1256.7 727.7L1258.2 729.1L1259.7 730.4L1261.2 731.7L1262.7 732.9L1264.2 734.2L1265.7 735.4L1267.2 736.7L1268.7 737.9L1270.2 739L1271.7 739.9L1273.2 740.6L1274.7 741.2L1276.2 741.7L1277.7 742.1L1279.2 742.5L1280.7 742.9L1282.2 743.3L1283.7 743.7L1285.2 744.1L1286.7 744.5L1288.2 745L1289.7 745.5L1291.2 746L1292.7 746.5L1294.2 746.9L1295.7 747.3L1297.2 747.6L1298.7 747.8L1300.2 747.8L1301.7 747.8L1303.2 747.6L1304.7 747.4L1306.2 747.1L1307.7 746.7L1309.2 746.3L1310.7 745.9L1312.2 745.5L1313.7 745L1315.2 744.4L1316.7 743.8L1318.2 743L1319.7 742.2L1321.2 741.3L1322.7 740.3L1324.2 739.2L1325.7 737.8L1327.2 736.3L1328.7 734.8L1330.2 733.4L1331.7 732.2L1333.2 731.3L1334.7 730.6L1336.2 730L1337.7 729.4L1339.2 728.9L1340.7 728.4L1342.2 727.9L1343.7 727.3L1345.2 726.6L1346.7 725.7L1348.2 724.5L1349.7 723.3L1351.2 722L1352.7 720.8L1354.2 719.7L1355.7 718.8L1357.2 718.1L1358.7 717.4L1360.2 716.8L1361.7 716.2L1363.2 715.7L1364.7 715.1L1366.2 714.5L1367.7 713.9L1369.1 713.3L1370.6 712.6L1372.1 711.7L1373.6 710.7L1375.1 709.7L1376.6 708.6L1378.1 707.6L1379.6 706.7L1381.1 705.9L1382.6 705.3L1384.1 704.9L1385.6 704.6L1387.1 704.3L1388.6 704L1390.1 703.8L1391.6 703.5L1393.1 703.3L1394.6 702.9L1396.1 702.5L1397.6 701.9L1399.1 701.1L1400.6 700.4L1402.1 699.7L1403.6 699.2L1405.1 699L1406.6 699.2L1408.1 699.6L1409.6 700.3L1411.1 701L1412.6 701.7L1414.1 702.3L1415.6 702.7L1417.1 702.7L1418.6 702.4L1420.1 701.9L1421.6 701.2L1423.1 700.4L1424.6 699.7L1426.1 699.2L1427.6 699L1429.1 699.2L1430.6 699.9L1432.1 700.9L1433.6 701.9L1435.1 702.9L1436.6 703.7L1438.1 704.1L1439.6 704.3L1441.1 704.5L1442.6 704.6L1444.1 704.8L1445.6 704.9L1447.1 705L1448.6 705.1L1450.1 705.3L1451.6 705.5L1453.1 705.7L1454.6 705.9L1456.1 706.2L1457.6 706.4L1459.1 706.5L1460.6 706.5L1462.1 706.4L1463.6 706.1L1465.1 705.7L1466.6 705.3L1468.1 704.8L1469.6 704.4L1471.1 704.2L1472.6 704L1474.1 704.1L1475.6 704.2L1477.1 704.4L1478.6 704.6L1480.1 704.8L1481.6 705L1483.1 705.2L1484.6 705.3L1486.1 705.3L1487.6 705.2L1489.1 705.1L1490.6 704.9L1492.1 704.8L1493.6 704.6L1495.1 704.4L1496.6 704.2L1498.1 704L1499.6 703.8L1501.1 703.7L1502.6 703.5L1504.1 703.4L1505.6 703.2L1507.1 702.9L1508.6 702.6L1510.1 702.2L1511.6 701.6L1513.1 701L1514.6 700.3L1516.1 699.6L1517.6 698.9L1519.1 698.3L1520.6 697.7L1522.1 697.1L1523.6 696.6L1525.1 696L1526.6 695.4L1528.1 694.9L1529.6 694.4L1531.1 694.2L1532.6 694L1534.1 694L1535.6 694L1537.1 694L1538.6 694L1540.1 694L1541.6 694L1543.1 694L1544.6 694L1546.1 694L1547.6 693.9L1549.1 693.8L1550.6 693.6L1552.1 693.4L1553.6 693.1L1555.1 692.8L1556.6 692.3L1558.1 691.3L1559.6 690L1561.1 688.5L1562.6 687.1L1564.1 685.9L1565.6 685.2L1567.1 684.8L1568.6 684.5L1570.1 684.2L1571.6 684L1573.1 683.8L1574.6 683.6L1576.1 683.3L1577.6 682.9L1579.1 682.3L1580.6 681.2L1582.1 680L1583.6 678.6L1585.1 677.2L1586.6 676L1588.1 675.2L1589.6 674.6L1591.1 674.2L1592.6 673.8L1594.1 673.4L1595.6 673.1L1597.1 672.7L1598.6 672.2L1600.1 671.7L1601.6 670.9L1603.1 669.8L1604.6 668.5L1606.1 667.2L1607.6 665.9L1609.1 664.7L1610.6 664L1612.1 663.4L1613.6 662.8L1615.1 662.4L1616.6 662.2L1618.1 662.4L1619.6 662.8L1621.1 663.3L1622.6 664L1624.1 664.7L1625.6 665.2L1627.1 665.7L1628.6 666.1L1630.1 666.5L1631.6 666.8L1633.1 667.2L1634.6 667.7L1636.1 668.2L1637.6 668.8L1639.1 669.5L1640.6 670.6L1642.1 672L1643.6 673.5L1645.1 675L1646.6 676.5L1648.1 677.7L1649.6 678.8L1651.1 679.8L1652.6 680.8L1654.1 681.7L1655.6 682.6L1657.1 683.6L1658.6 684.7L1660.1 686L1661.6 687.7L1663.1 689.9L1664.6 692.1L1666.1 693.9L1667.6 695.5L1669.1 697L1670.6 698.4L1672.1 699.8L1673.6 701.2L1675.1 702.7L1676.6 704.2L1678.1 705.9L1679.6 707.5L1681 709.2L1682.5 710.8L1684 712.3L1685.5 713.7L1687 714.8L1688.5 715.8L1690 716.7L1691.5 717.4L1693 718.2L1694.5 718.8L1696 719.5L1697.5 720.2L1699 720.9L1700.5 721.7L1702 722.6L1703.5 723.5L1705 724.5L1706.5 725.4L1708 726.4L1709.5 727.3L1711 728.2L1712.5 728.9L1714 729.7L1715.5 730.4L1717 731.2L1718.5 731.9L1720 732.6L1721.5 733.1L1723 733.6L1724.5 733.9L1726 734L1727.5 734.1L1729 734.2L1730.5 734.3L1732 734.4L1733.5 734.4L1735 734.5L1736.5 734.6L1738 734.7L1739.5 734.9L1741 735.1L1742.5 735.3L1744 735.5L1745.5 735.9L1747 736.3L1748.5 736.8L1750 737.9L1751.5 739.4L1753 741.4L1754.5 744.1L1756 749L1757.5 754.9L1759 762.6L1760.5 770.5L1762 773.4L1763.5 772.2L1765 730.2L1766.5 730.2L1768 730.2L1769.5 730.2L1771 730.2L1772.5 730.2L1774 730.2L1775.5 730.2L1777 730.1L1778.5 729.8L1780 729.5L1781.5 729.1L1783 728.7L1784.5 728.3L1786 728L1787.5 727.8L1789 727.7L1790.5 727.8L1792 728.1L1793.5 728.4L1795 728.9L1796.5 729.3L1798 729.8L1799.5 730.1L1801 730.3L1802.5 730.5L1804 730.6L1805.5 730.7L1807 730.8L1808.5 730.9L1810 731.1L1811.5 731.3L1813 731.5L1814.5 731.9L1816 732.3L1817.5 732.9L1819 733.6L1820.5 734.3L1822 735L1823.5 735.7L1825 736.4L1826.5 736.9L1828 737.5L1829.5 738L1831 738.6L1832.5 739.1L1834 739.7L1835.5 740.3L1837 741L1838.5 741.7L1840 742.5L1841.5 743.3L1843 744.1L1844.5 744.9L1846 745.6L1847.5 746.4L1849 747L1850.5 747.6L1852 748.2L1853.5 748.8L1855 749.3L1856.5 749.9L1858 750.5L1859.5 751.1L1861 751.8L1862.5 752.6L1864 753.5L1865.5 754.6L1867 755.8L1868.5 757.1L1870 758.4L1871.5 759.7L1873 761L1874.5 762.2L1876 763.2L1877.5 764.2L1879 765.2L1880.5 766.1L1882 767L1883.5 767.8L1885 768.7L1886.5 769.5L1888 770.3L1889.5 771.1L1891 771.9L1892.5 772.7L1894 773.4L1895.5 774.1L1897 774.9L1898.5 775.6L1900 776.3L1901.5 777.1L1903 777.8L1904.5 778.6L1906 779.3L1907.5 780.1L1909 780.8L1910.5 781.6L1912 782.5L1913.5 783.4L1915 784.3L1916.5 785L1918 785.3L1919.5 785.4L1921 785.4L1922.5 785.5L1924 785.5L1925.5 785.5L1927 785.6L1928.5 785.6L1930 785.7L1931.5 785.9L1933 786.3L1934.5 786.8L1936 787.4L1937.5 788L1939 788.6L1940.5 789L1942 789.5L1943.5 790L1945 790.4L1946.5 790.7L1948 790.8L1949.5 790.6L1951 790.4L1952.5 790L1954 789.6L1955.5 789.3L1957 789.1L1958.5 789L1960 789.1L1961.5 789.2L1963 789.4L1964.5 789.6L1966 789.7L1967.5 789.8L1969 789.7L1970.5 789.5L1972 789.2L1973.5 788.8L1975 788.4L1976.5 788L1978 787.8L1979.5 787.8L1981 788.1L1982.5 788.7L1984 789.7L1985.5 790.7L1987 791.8L1988.5 792.9L1990 793.8L1991.5 794.5L1992.9 795.1L1994.4 795.6L1995.9 796.2L1997.4 796.7L1998.9 797.2L2000.4 797.8L2001.9 798.5L2003.4 799.3L2004.9 800.3L2006.4 801.5L2007.9 802.9L2009.4 804.3L2010.9 805.7L2012.4 807L2013.9 808.1L2015.4 809L2016.9 809.8L2018.4 810.4L2019.9 811L2021.4 811.5L2022.9 812L2024.4 812.5L2025.9 813.1L2027.4 813.8L2028.9 814.6L2030.4 815.6L2031.9 816.8L2033.4 818L2034.9 819.3L2036.4 820.4L2037.9 821.5L2039.4 822.5L2040.9 823.4L2042.4 824.2L2043.9 825L2045.4 825.8L2046.9 826.7L2048.4 827.6L2049.9 828.7L2051.4 829.8L2052.9 831.2L2054.4 832.8L2055.9 834.5L2057.4 836.2L2058.9 837.9L2060.4 839.4L2061.9 840.8L2063.4 841.9L2064.9 842.7L2066.4 843.5L2067.9 844.2L2069.4 844.8L2070.9 845.5L2072.4 846.1L2073.9 846.9L2075.4 847.8L2076.9 848.9L2078.4 850.2L2079.9 851.6L2081.4 853.1L2082.9 854.5L2084.4 855.8L2085.9 856.8L2087.4 857.7L2088.9 858.4L2090.4 859.1L2091.9 859.7L2093.4 860.4L2094.9 861.2L2096.4 862.2L2097.9 863.5L2099.4 865.1L2100.9 866.7L2102.4 868.4L2103.9 870L2105.4 871.3L2106.9 872.4L2108.4 873L2109.9 873.4L2111.4 873.8L2112.9 874.1L2114.4 874.4L2115.9 874.6L2117.4 874.9L2118.9 875.1L2120.4 875.3L2121.9 875.6L2123.4 875.9L2124.9 876.2L2126.4 876.4L2127.9 876.7L2129.4 876.9L2130.9 877L2132.4 877.1L2133.9 877.1L2135.4 877.1L2136.9 877L2138.4 876.8L2139.9 876.7L2141.4 876.5L2142.9 876.3L2144.4 876L2145.9 875.8L2147.4 875.5L2148.9 875.2L2150.4 874.8L2151.9 874.2L2153.4 873.6L2154.9 872.9L2156.4 872.1L2157.9 871.5L2159.4 870.8L2160.9 870.3L2162.4 869.7L2163.9 869.2L2165.4 868.7L2166.9 868.2L2168.4 867.8L2169.9 867.5L2171.4 867.2L2172.9 867L2174.4 866.8L2175.9 866.7L2177.4 866.6" stroke="#0000ff"/>
<path d="M277.5 1352.8L279 1355.8L280.5 1358.2L282 1359.7L283.5 1360.9L285 1361.9L286.5 1362.7L288 1363.4L289.5 1363.9L291 1364.4L292.5 1364.8L294 1365.2L295.5 1365.5L297 1365.8L298.5 1366.1L300 1366.3L301.5 1366.5L303 1366.6L304.5 1366.6L306 1366.5L307.5 1366.4L309 1366.3L310.5 1366.1L312 1365.8L313.5 1365.6L315 1365.3L316.5 1365L318 1364.7L319.5 1364.4L321 1364L322.5 1363.6L324 1363L325.5 1362.5L327 1361.8L328.5 1361.1L330 1360.2L331.5 1359.2L333 1358.1L334.5 1356.9L336 1355.6L337.5 1354.3L339 1352.9L340.5 1351.4L342 1349.8L343.5 1348.2L345 1346.7L346.5 1345.2L348 1343.7L349.5 1342.2L351 1340.7L352.5 1339.2L354 1337.7L355.5 1336.2L357 1334.6L358.5 1333L360 1331.4L361.5 1329.8L363 1328.4L364.5 1327L366 1325.9L367.5 1324.8L369 1323.8L370.5 1322.8L372 1321.9L373.5 1321.1L375 1320.3L376.5 1319.7L378 1319.1L379.5 1318.6L381 1318.1L382.5 1317.6L384 1317L385.5 1316.4L387 1315.7L388.5 1314.9L390 1314.1L391.5 1313.3L393 1312.5L394.5 1311.8L396 1311.2L397.5 1310.6L399 1310.1L400.5 1309.6L402 1309.1L403.5 1308.6L405 1308.2L406.5 1307.7L408 1307.2L409.5 1306.6L411 1306.1L412.5 1305.5L414 1305L415.5 1304.4L417 1303.9L418.5 1303.4L420 1302.8L421.5 1302.3L423 1301.8L424.5 1301.4L426 1300.9L427.5 1300.4L429 1300L430.5 1299.5L432 1299L433.5 1298.4L435 1297.8L436.5 1297.2L438 1296.5L439.5 1295.8L441 1295L442.5 1294.2L444 1293.4L445.5 1292.6L447 1291.8L448.5 1291.1L450 1290.4L451.5 1289.7L453 1289L454.5 1288.3L456 1287.6L457.5 1286.9L459 1286.3L460.5 1285.6L462 1285.1L463.5 1284.5L465 1284.1L466.5 1283.6L468 1283.3L469.5 1282.9L471 1282.5L472.5 1282.2L474 1281.9L475.5 1281.6L477 1281.3L478.5 1281.1L480 1280.8L481.5 1280.5L483 1280.2L484.5 1279.9L486 1279.7L487.5 1279.4L489 1279.1L490.5 1278.9L492 1278.7L493.5 1278.6L495 1278.5L496.5 1278.4L498 1278.4L499.5 1278.4L501 1278.4L502.5 1278.3L504 1278.3L505.5 1278.3L507 1278.3L508.5 1278.3L510 1278.3L511.5 1278.2L513 1278.2L514.5 1278.2L516 1278.1L517.5 1278.1L519 1278L520.5 1278L522 1277.9L523.5 1277.9L525 1277.8L526.5 1277.8L528 1277.7L529.5 1277.7L531 1277.7L532.5 1277.7L534 1277.8L535.5 1277.8L537 1277.8L538.5 1277.9L540 1277.9L541.5 1278L543 1278L544.5 1278.1L546 1278.1L547.5 1278.2L549 1278.3L550.5 1278.4L552 1278.5L553.5 1278.6L555 1278.8L556.5 1278.9L558 1279.1L559.4 1279.3L560.9 1279.5L562.4 1279.7L563.9 1279.9L565.4 1280.1L566.9 1280.3L568.4 1280.6L569.9 1280.9L571.4 1281.2L572.9 1281.6L574.4 1281.9L575.9 1282.4L577.4 1283L578.9 1283.7L580.4 1284.6L581.9 1285.5L583.4 1286.5L584.9 1287.4L586.4 1288.4L587.9 1289.4L589.4 1290.4L590.9 1291.5L592.4 1292.6L593.9 1293.7L595.4 1294.7L596.9 1295.7L598.4 1296.7L599.9 1297.7L601.4 1298.7L602.9 1299.6L604.4 1300.6L605.9 1301.5L607.4 1302.4L608.9 1303.4L610.4 1304.3L611.9 1305.2L613.4 1306.1L614.9 1307.1L616.4 1308L617.9 1308.8L619.4 1309.7L620.9 1310.5L622.4 1311.3L623.9 1312.1L625.4 1312.8L626.9 1313.6L628.4 1314.3L629.9 1315L631.4 1315.7L632.9 1316.5L634.4 1317.2L635.9 1317.9L637.4 1318.6L638.9 1319.3L640.4 1320L641.9 1320.8L643.4 1321.6L644.9 1322.4L646.4 1323.3L647.9 1324.4L649.4 1325.4L650.9 1326.6L652.4 1327.8L653.9 1329L655.4 1330.2L656.9 1331.4L658.4 1332.7L659.9 1334L661.4 1335.3L662.9 1336.6L664.4 1338L665.9 1339.4L667.4 1340.9L668.9 1342.6L670.4 1344.2L671.9 1345.8L673.4 1347.3L674.9 1348.6L676.4 1349.7L677.9 1350.8L679.4 1351.9L680.9 1352.9L682.4 1353.9L683.9 1354.8L685.4 1355.6L686.9 1356.2L688.4 1356.5L689.9 1356.7L691.4 1356.5L692.9 1356L694.4 1355.1L695.9 1354.1L697.4 1353L698.9 1351.6L700.4 1349.6L701.9 1347.2L703.4 1344.6L704.9 1341.9L706.4 1339.1L707.9 1336L709.4 1332.6L710.9 1329.2L712.4 1325.7L713.9 1322.3L715.4 1318.8L716.9 1315.2L718.4 1311.7L719.9 1308.2L721.4 1304.9L722.9 1301.6L724.4 1298.4L725.9 1295.2L727.4 1292L728.9 1288.7L730.4 1285.5L731.9 1282.2L733.4 1279L734.9 1275.7L736.4 1272.5L737.9 1269.2L739.4 1266L740.9 1262.7L742.4 1259.5L743.9 1256.2L745.4 1252.9L746.9 1249.7L748.4 1246.4L749.9 1243.2L751.4 1240.1L752.9 1237.1L754.4 1234.1L755.9 1231.1L757.4 1228.2L758.9 1225.3L760.4 1222.5L761.9 1219.8L763.4 1217.1L764.9 1214.4L766.4 1211.8L767.9 1209.2L769.4 1206.7L770.9 1204.2L772.4 1201.8L773.9 1199.6L775.4 1197.4L776.9 1195.4L778.4 1193.4L779.9 1191.6L781.4 1189.8L782.9 1188L784.4 1186.2L785.9 1184.3L787.4 1182.5L788.9 1180.8L790.4 1179L791.9 1177.1L793.4 1175.2L794.9 1173.1L796.4 1170.8L797.9 1168.1L799.4 1165.2L800.9 1162.5L802.4 1160.1L803.9 1157.9L805.4 1155.9L806.9 1153.9L808.4 1152.1L809.9 1150.3L811.4 1148.6L812.9 1146.8L814.4 1145.2L815.9 1143.5L817.4 1141.8L818.9 1140L820.4 1138.2L821.9 1136.4L823.4 1134.4L824.9 1132.4L826.4 1130.4L827.9 1128.3L829.4 1126.2L830.9 1124L832.4 1121.9L833.9 1119.8L835.4 1117.8L836.9 1115.7L838.4 1113.7L839.9 1111.8L841.4 1110L842.9 1108.2L844.4 1106.5L845.9 1104.9L847.4 1103.2L848.8 1101.6L850.3 1099.9L851.8 1098.2L853.3 1096.5L854.8 1094.7L856.3 1092.7L857.8 1090.5L859.3 1088.5L860.8 1086.8L862.3 1085.5L863.8 1084.4L865.3 1083.5L866.8 1082.6L868.3 1081.8L869.8 1081L871.3 1080.3L872.8 1079.5L874.3 1078.7L875.8 1077.9L877.3 1077L878.8 1076L880.3 1075L881.8 1074L883.3 1073L884.8 1072L886.3 1070.9L887.8 1069.8L889.3 1068.7L890.8 1067.4L892.3 1066.1L893.8 1064.7L895.3 1063L896.8 1060.9L898.3 1058.8L899.8 1056.9L901.3 1055.4L902.8 1053.9L904.3 1052.5L905.8 1051.2L907.3 1050L908.8 1048.7L910.3 1047.4L911.8 1046.1L913.3 1044.7L914.8 1043.2L916.3 1041.7L917.8 1040.2L919.3 1038.6L920.8 1037.1L922.3 1035.6L923.8 1034.1L925.3 1032.7L926.8 1031.3L928.3 1029.9L929.8 1028.5L931.3 1027.2L932.8 1025.9L934.3 1024.6L935.8 1023.2L937.3 1021.9L938.8 1020.5L940.3 1019.2L941.8 1017.8L943.3 1016.5L944.8 1015.1L946.3 1013.8L947.8 1012.4L949.3 1011.1L950.8 1009.7L952.3 1008.4L953.8 1007.1L955.3 1005.7L956.8 1004.4L958.3 1003.1L959.8 1001.7L961.3 1000.3L962.8 998.9L964.3 997.5L965.8 996L967.3 994.5L968.8 993L970.3 991.5L971.8 990L973.3 988.4L974.8 986.9L976.3 985.4L977.8 984L979.3 982.5L980.8 981L982.3 979.5L983.8 978L985.3 976.5L986.8 975L988.3 973.4L989.8 971.9L991.3 970.3L992.8 968.7L994.3 967.1L995.8 965.3L997.3 963.4L998.8 960.8L1000.3 957.4L1001.8 954L1003.3 951.8L1004.8 951.5L1006.3 951.7L1007.8 952.1L1009.3 952.4L1010.8 952.7L1012.3 952.8L1013.8 951.1L1015.3 947.7L1016.8 944.2L1018.3 942.2L1019.8 941L1021.3 939.9L1022.8 939L1024.3 938.2L1025.8 937.4L1027.3 936.7L1028.8 936L1030.3 935.3L1031.8 934.6L1033.3 934L1034.8 933.4L1036.3 932.8L1037.8 932.3L1039.3 931.8L1040.8 931.3L1042.3 930.9L1043.8 930.5L1045.3 930.1L1046.8 929.8L1048.3 929.5L1049.8 929.1L1051.3 928.7L1052.8 928.2L1054.3 927.7L1055.8 927.2L1057.3 926.7L1058.8 926L1060.3 925.2L1061.8 924.1L1063.3 922.6L1064.8 920.8L1066.3 919.1L1067.8 917.7L1069.3 916.6L1070.8 915.6L1072.3 914.7L1073.8 913.8L1075.3 913L1076.8 912.1L1078.3 911.2L1079.8 910.3L1081.3 909.3L1082.8 908.4L1084.3 907.5L1085.8 906.6L1087.3 905.7L1088.8 904.8L1090.3 904L1091.8 903.1L1093.3 902.2L1094.8 901.3L1096.3 900.4L1097.8 899.6L1099.3 898.8L1100.8 898.2L1102.3 897.8L1103.8 897.5L1105.3 897.3L1106.8 897.1L1108.3 896.9L1109.8 896.7L1111.3 896.6L1112.8 896.5L1114.3 896.4L1115.8 896.4L1117.3 896.5L1118.8 896.7L1120.3 896.9L1121.8 897.2L1123.3 897.5L1124.8 897.8L1126.3 898.1L1127.8 898.4L1129.3 898.7L1130.8 898.8L1132.3 898.9L1133.8 898.9L1135.3 898.9L1136.8 898.7L1138.2 898.6L1139.7 898.3L1141.2 898.1L1142.7 897.8L1144.2 897.5L1145.7 897.3L1147.2 897L1148.7 896.7L1150.2 896.5L1151.7 896.2L1153.2 895.9L1154.7 895.6L1156.2 895.3L1157.7 894.9L1159.2 894.6L1160.7 894.4L1162.2 894.1L1163.7 894L1165.2 893.9L1166.7 894L1168.2 894.1L1169.7 894.2L1171.2 894.4L1172.7 894.7L1174.2 895L1175.7 895.3L1177.2 895.7L1178.7 896L1180.2 896.4L1181.7 896.8L1183.2 897.2L1184.7 897.8L1186.2 898.4L1187.7 899L1189.2 899.7L1190.7 900.4L1192.2 901.1L1193.7 901.8L1195.2 902.7L1196.7 903.6L1198.2 904.6L1199.7 905.7L1201.2 906.7L1202.7 907.6L1204.2 908.4L1205.7 909L1207.2 909.6L1208.7 910.1L1210.2 910.5L1211.7 910.9L1213.2 911.2L1214.7 911.7L1216.2 912.1L1217.7 912.6L1219.2 913.2L1220.7 913.9L1222.2 914.7L1223.7 915.6L1225.2 916.4L1226.7 917.3L1228.2 918L1229.7 918.7L1231.2 919.2L1232.7 919.6L1234.2 920L1235.7 920.4L1237.2 920.7L1238.7 921L1240.2 921.4L1241.7 921.7L1243.2 922.1L1244.7 922.5L1246.2 922.9L1247.7 923.4L1249.2 923.9L1250.7 924.5L1252.2 925.1L1253.7 925.7L1255.2 926.3L1256.7 927L1258.2 927.7L1259.7 928.5L1261.2 929.4L1262.7 930.4L1264.2 931.5L1265.7 932.7L1267.2 934L1268.7 935.4L1270.2 936.7L1271.7 937.9L1273.2 939.1L1274.7 940.2L1276.2 941.2L1277.7 942.1L1279.2 943.1L1280.7 944.1L1282.2 945.1L1283.7 946.2L1285.2 947.4L1286.7 948.8L1288.2 950.4L1289.7 952.1L1291.2 954L1292.7 955.9L1294.2 957.8L1295.7 959.7L1297.2 961.3L1298.7 962.8L1300.2 963.9L1301.7 964.9L1303.2 965.7L1304.7 966.6L1306.2 967.3L1307.7 968L1309.2 968.7L1310.7 969.3L1312.2 969.9L1313.7 970.5L1315.2 971L1316.7 971.5L1318.2 971.9L1319.7 972.4L1321.2 972.8L1322.7 973.3L1324.2 973.8L1325.7 974.3L1327.2 974.9L1328.7 975.6L1330.2 976.3L1331.7 977.2L1333.2 978L1334.7 979L1336.2 980L1337.7 981L1339.2 982L1340.7 983L1342.2 984L1343.7 985L1345.2 986.1L1346.7 987.2L1348.2 988.3L1349.7 989.4L1351.2 990.6L1352.7 991.8L1354.2 993L1355.7 994.3L1357.2 995.7L1358.7 997.2L1360.2 998.8L1361.7 1000.4L1363.2 1002L1364.7 1003.5L1366.2 1005L1367.7 1006.4L1369.2 1007.7L1370.7 1009L1372.2 1010.3L1373.7 1011.5L1375.2 1012.7L1376.7 1013.9L1378.2 1015L1379.7 1016L1381.2 1017.1L1382.7 1018L1384.2 1019L1385.7 1019.9L1387.2 1020.8L1388.7 1021.6L1390.2 1022.5L1391.7 1023.3L1393.2 1024.1L1394.7 1024.9L1396.2 1025.6L1397.7 1026.3L1399.2 1027L1400.7 1027.7L1402.2 1028.4L1403.7 1029.2L1405.2 1030.1L1406.7 1031.1L1408.2 1032.2L1409.7 1033.4L1411.2 1034.6L1412.7 1035.9L1414.2 1037.2L1415.7 1038.5L1417.2 1039.7L1418.7 1040.9L1420.2 1042.1L1421.7 1043.3L1423.2 1044.5L1424.7 1045.6L1426.2 1046.8L1427.6 1048L1429.1 1049.3L1430.6 1050.5L1432.1 1051.9L1433.6 1053.2L1435.1 1054.6L1436.6 1056L1438.1 1057.4L1439.6 1058.7L1441.1 1060.1L1442.6 1061.4L1444.1 1062.6L1445.6 1063.8L1447.1 1065L1448.6 1066.2L1450.1 1067.3L1451.6 1068.5L1453.1 1069.7L1454.6 1070.9L1456.1 1072.2L1457.6 1073.5L1459.1 1074.8L1460.6 1076.1L1462.1 1077.5L1463.6 1078.9L1465.1 1080.3L1466.6 1081.7L1468.1 1083.1L1469.6 1084.5L1471.1 1086L1472.6 1087.5L1474.1 1089L1475.6 1090.5L1477.1 1092.1L1478.6 1093.6L1480.1 1095.1L1481.6 1096.6L1483.1 1098.1L1484.6 1099.5L1486.1 1101L1487.6 1102.5L1489.1 1104L1490.6 1105.5L1492.1 1107L1493.6 1108.6L1495.1 1110.3L1496.6 1111.9L1498.1 1113.6L1499.6 1115.3L1501.1 1117L1502.6 1118.8L1504.1 1120.6L1505.6 1122.5L1507.1 1124.5L1508.6 1126.4L1510.1 1128.3L1511.6 1130.2L1513.1 1131.9L1514.6 1133.5L1516.1 1135L1517.6 1136.5L1519.1 1138L1520.6 1139.5L1522.1 1140.9L1523.6 1142.3L1525.1 1143.8L1526.6 1145.3L1528.1 1146.9L1529.6 1148.4L1531.1 1149.9L1532.6 1151.4L1534.1 1152.9L1535.6 1154.4L1537.1 1155.9L1538.6 1157.3L1540.1 1158.6L1541.6 1160L1543.1 1161.3L1544.6 1162.6L1546.1 1163.9L1547.6 1165.3L1549.1 1166.6L1550.6 1168.1L1552.1 1169.5L1553.6 1170.9L1555.1 1172.3L1556.6 1173.8L1558.1 1175.3L1559.6 1176.8L1561.1 1178.4L1562.6 1180L1564.1 1181.7L1565.6 1183.6L1567.1 1185.4L1568.6 1187.4L1570.1 1189.3L1571.6 1191.2L1573.1 1193.1L1574.6 1195L1576.1 1196.9L1577.6 1198.8L1579.1 1200.7L1580.6 1202.6L1582.1 1204.4L1583.6 1206.2L1585.1 1207.9L1586.6 1209.6L1588.1 1211.3L1589.6 1212.9L1591.1 1214.6L1592.6 1216.3L1594.1 1218L1595.6 1219.7L1597.1 1221.4L1598.6 1223.1L1600.1 1224.8L1601.6 1226.5L1603.1 1228.1L1604.6 1229.6L1606.1 1231.2L1607.6 1232.7L1609.1 1234.2L1610.6 1235.6L1612.1 1237.1L1613.6 1238.6L1615.1 1240.1L1616.6 1241.6L1618.1 1243.1L1619.6 1244.6L1621.1 1246.1L1622.6 1247.6L1624.1 1249.1L1625.6 1250.5L1627.1 1252L1628.6 1253.5L1630.1 1255L1631.6 1256.5L1633.1 1258L1634.6 1259.5L1636.1 1261L1637.6 1262.5L1639.1 1264L1640.6 1265.5L1642.1 1267L1643.6 1268.4L1645.1 1269.9L1646.6 1271.3L1648.1 1272.7L1649.6 1274.2L1651.1 1275.8L1652.6 1277.5L1654.1 1279.3L1655.6 1281.4L1657.1 1283.7L1658.6 1286L1660.1 1288.2L1661.6 1290.3L1663.1 1292.2L1664.6 1293.8L1666.1 1295.4L1667.6 1296.9L1669.1 1298.4L1670.6 1299.7L1672.1 1300.9L1673.6 1302L1675.1 1302.9L1676.6 1303.7L1678.1 1304.4L1679.6 1305.1L1681.1 1305.7L1682.6 1306.2L1684.1 1306.8L1685.6 1307.3L1687.1 1307.7L1688.6 1308.2L1690.1 1308.7L1691.6 1309.1L1693.1 1309.6L1694.6 1310L1696.1 1310.4L1697.6 1310.7L1699.1 1311.1L1700.6 1311.3L1702.1 1311.6L1703.6 1311.8L1705.1 1311.9L1706.6 1312.1L1708.1 1312.3L1709.6 1312.5L1711.1 1312.6L1712.6 1312.7L1714.1 1312.8L1715.6 1312.9L1717 1312.9L1718.5 1312.9L1720 1312.7L1721.5 1312.6L1723 1312.3L1724.5 1312L1726 1311.7L1727.5 1311.5L1729 1311.3L1730.5 1311.1L1732 1310.9L1733.5 1310.8L1735 1310.6L1736.5 1310.5L1738 1310.4L1739.5 1310.4L1741 1310.4L1742.5 1310.4L1744 1310.5L1745.5 1310.6L1747 1310.8L1748.5 1311L1750 1311.1L1751.5 1311.5L1753 1312.1L1754.5 1312.8L1756 1313.5L1757.5 1314L1759 1314.1L1760.5 1314L1762 1313.6L1763.5 1313.1L1765 1312.5L1766.5 1312L1768 1311.5L1769.5 1311.1L1771 1310.8L1772.5 1310.4L1774 1310.1L1775.5 1309.7L1777 1309.3L1778.5 1308.9L1780 1308.4L1781.5 1307.9L1783 1307.3L1784.5 1306.7L1786 1306.1L1787.5 1305.4L1789 1304.7L1790.5 1304L1792 1303.2L1793.5 1302.4L1795 1301.6L1796.5 1300.8L1798 1299.9L1799.5 1299L1801 1298.1L1802.5 1297.1L1804 1296.2L1805.5 1295.1L1807 1294L1808.5 1292.9L1810 1291.7L1811.5 1290.5L1813 1289.2L1814.5 1288L1816 1286.7L1817.5 1285.5L1819 1284.3L1820.5 1283.1L1822 1281.8L1823.5 1280.6L1825 1279.4L1826.5 1278.2L1828 1277L1829.5 1275.9L1831 1274.7L1832.5 1273.6L1834 1272.5L1835.5 1271.4L1837 1270.3L1838.5 1269.3L1840 1268.3L1841.5 1267.3L1843 1266.4L1844.5 1265.6L1846 1264.8L1847.5 1264L1849 1263.2L1850.5 1262.5L1852 1261.8L1853.5 1261.1L1855 1260.4L1856.5 1259.8L1858 1259.2L1859.5 1258.6L1861 1258.1L1862.5 1257.6L1864 1257L1865.5 1256.4L1867 1255.7L1868.5 1254.9L1870 1254.1L1871.5 1253.1L1873 1252.1L1874.5 1251L1876 1249.9L1877.5 1248.7L1879 1247.6L1880.5 1246.4L1882 1245.2L1883.5 1243.9L1885 1242.5L1886.5 1241.1L1888 1239.7L1889.5 1238.3L1891 1236.9L1892.5 1235.6L1894 1234.2L1895.5 1232.8L1897 1231.3L1898.5 1229.9L1900 1228.5L1901.5 1227.1L1903 1225.8L1904.5 1224.6L1906 1223.5L1907.5 1222.5L1909 1221.5L1910.5 1220.6L1912 1219.6L1913.5 1218.8L1915 1218L1916.5 1217.2L1918 1216.4L1919.5 1215.8L1921 1215.1L1922.5 1214.5L1924 1213.9L1925.5 1213.4L1927 1212.8L1928.5 1212.2L1930 1211.7L1931.5 1211.1L1933 1210.5L1934.5 1209.9L1936 1209.3L1937.5 1208.7L1939 1208.1L1940.5 1207.5L1942 1206.9L1943.5 1206.3L1945 1205.7L1946.5 1205.1L1948 1204.5L1949.5 1203.9L1951 1203.3L1952.5 1202.7L1954 1202.1L1955.5 1201.5L1957 1200.8L1958.5 1200L1960 1199.3L1961.5 1198.5L1963 1197.8L1964.5 1197L1966 1196.2L1967.5 1195.5L1969 1194.7L1970.5 1193.9L1972 1193.1L1973.5 1192.3L1975 1191.5L1976.5 1190.7L1978 1190L1979.5 1189.4L1981 1188.8L1982.5 1188.3L1984 1187.8L1985.5 1187.3L1987 1186.9L1988.5 1186.5L1990 1186.1L1991.5 1185.7L1993 1185.2L1994.5 1184.7L1996 1184.2L1997.5 1183.7L1999 1183.2L2000.5 1182.7L2002 1182.3L2003.5 1181.9L2005 1181.6L2006.4 1181.3L2007.9 1181.1L2009.4 1180.9L2010.9 1180.7L2012.4 1180.5L2013.9 1180.3L2015.4 1180.1L2016.9 1180L2018.4 1179.9L2019.9 1179.8L2021.4 1179.7L2022.9 1179.6L2024.4 1179.5L2025.9 1179.5L2027.4 1179.4L2028.9 1179.4L2030.4 1179.3L2031.9 1179.2L2033.4 1179.1L2034.9 1179L2036.4 1178.8L2037.9 1178.5L2039.4 1177.9L2040.9 1177.3L2042.4 1176.6L2043.9 1175.8L2045.4 1175.1L2046.9 1174.4L2048.4 1173.8L2049.9 1173.2L2051.4 1172.6L2052.9 1172L2054.4 1171.5L2055.9 1170.9L2057.4 1170.5L2058.9 1170L2060.4 1169.7L2061.9 1169.5L2063.4 1169.2L2064.9 1169L2066.4 1168.7L2067.9 1168.5L2069.4 1168.4L2070.9 1168.3L2072.4 1168.2L2073.9 1168.2L2075.4 1168.3L2076.9 1168.5L2078.4 1168.7L2079.9 1169L2081.4 1169.3L2082.9 1169.7L2084.4 1170L2085.9 1170.3L2087.4 1170.6L2088.9 1171L2090.4 1171.4L2091.9 1171.8L2093.4 1172.2L2094.9 1172.6L2096.4 1173L2097.9 1173.4L2099.4 1173.9L2100.9 1174.4L2102.4 1174.8L2103.9 1175.1L2105.4 1175.2L2106.9 1175.2L2108.4 1175.2L2109.9 1175.2L2111.4 1175.2L2112.9 1175.2L2114.4 1175.2L2115.9 1175.2L2117.4 1175.2L2118.9 1175.2L2120.4 1175.2L2121.9 1175.2L2123.4 1175.2L2124.9 1175.2L2126.4 1175.2L2127.9 1175.2L2129.4 1175.2L2130.9 1175.2L2132.4 1175.1L2133.9 1175L2135.4 1174.7L2136.9 1174.5L2138.4 1174.2L2139.9 1173.9L2141.4 1173.7L2142.9 1173.5L2144.4 1173.4L2145.9 1173.2L2147.4 1173.1L2148.9 1173L2150.4 1172.9L2151.9 1172.8L2153.4 1172.8L2154.9 1172.7L2156.4 1172.7L2157.9 1172.8L2159.4 1172.9L2160.9 1173L2162.4 1173.2L2163.9 1173.3L2165.4 1173.5L2166.9 1173.8L2168.4 1174L2169.9 1174.3L2171.4 1174.8L2172.9 1175.3L2174.4 1175.9L2175.9 1176.5L2177.4 1177.2" stroke="#ff0000"/>
<path d="M257 1313.3L258.5 1311.2L260 1309.3L261.5 1307.4L263 1305.7L264.5 1304.1L266 1302.6L267.5 1301.2L269 1300L270.5 1298.9L272 1298L273.5 1297.2L275 1296.5L276.5 1296L278 1295.6L279.5 1295.4L281 1295.3L282.5 1295.3L284 1295.6L285.5 1295.9L287 1296.4L288.5 1297.1L290 1297.9L291.5 1298.8L293 1299.9L294.5 1301.1L296 1302.4L297.5 1303.9L299 1305.5L300.5 1307.2L302 1309L303.5 1311L305 1313L306.5 1315.2L308 1317.4L309.5 1319.8L311 1322.2L312.5 1324.6L314 1327.2L315.5 1329.7L317 1332.3L318.5 1335L320 1337.6L321.5 1340.2L323 1342.7L324.5 1345.1L326 1347.4L327.5 1349.5L329 1351.4L330.5 1352.9L332 1354.1L333.5 1354.7L335 1354.9L336.5 1354.5L338 1353.7L339.5 1352.4L341 1350.7L342.5 1348.7L344 1346.5L345.5 1344.2L347 1341.7L348.5 1339.1L350 1336.5L351.5 1333.9L353 1331.3L354.5 1328.7L356 1326.1L357.5 1323.6L359 1321.2L360.5 1318.8L362 1316.5L363.5 1314.3L365 1312.2L366.5 1310.2L368 1308.3L369.5 1306.5L371 1304.8L372.5 1303.3L374 1301.9L375.5 1300.6L377 1299.4L378.5 1298.4L380 1297.5L381.5 1296.8L383 1296.2L384.5 1295.8L386 1295.5L387.5 1295.3L389 1295.3L390.5 1295.4L392 1295.7L393.5 1296.2L395 1296.7L396.5 1297.5L398 1298.3L399.5 1299.3L401 1300.5L402.5 1301.8L404 1303.2L405.5 1304.7L407 1306.4L408.5 1308.2L410 1310.1L411.5 1312.1L413 1314.2L414.5 1316.4L416 1318.7L417.5 1321L419 1323.5L420.5 1326L422 1328.5L423.5 1331.1L425 1333.7L426.5 1336.4L428 1339L429.5 1341.5L431 1344L432.5 1346.4L434 1348.6L435.5 1350.6L437 1352.3L438.5 1353.6L440 1354.5L441.5 1354.9L443 1354.8L444.5 1354.1L446 1353L447.5 1351.5L449 1349.7L450.5 1347.6L452 1345.3L453.5 1342.9L455 1340.3L456.5 1337.8L458 1335.1L459.5 1332.5L461 1329.9L462.5 1327.3L464 1324.8L465.5 1322.3L467 1319.9L468.5 1317.6L470 1315.3L471.5 1313.2L473 1311.1L474.5 1309.2L476 1307.3L477.5 1305.6L479 1304L480.5 1302.5L482 1301.2L483.5 1299.9L485 1298.9L486.5 1297.9L488 1297.1L489.5 1296.5L491 1295.9L492.5 1295.6L494 1295.4L495.5 1295.3L497 1295.4L498.5 1295.6L500 1295.9L501.5 1296.5L503 1297.1L504.5 1297.9L506 1298.9L507.5 1299.9L509 1301.2L510.5 1302.5L512 1304L513.5 1305.6L515 1307.3L516.5 1309.2L518 1311.1L519.5 1313.2L521 1315.3L522.5 1317.6L524 1319.9L525.5 1322.3L527 1324.8L528.5 1327.3L530 1329.9L531.5 1332.5L533 1335.1L534.5 1337.8L536 1340.3L537.5 1342.9L539 1345.3L540.5 1347.6L542 1349.7L543.5 1351.5L545 1353L546.5 1354.1L548 1354.8L549.5 1354.9L551 1354.5L552.5 1353.6L554 1352.3L555.5 1350.6L557 1348.6L558.5 1346.4L560 1344L561.5 1341.5L563 1339L564.5 1336.4L566 1333.7L567.5 1331.1L569 1328.5L570.5 1326L572 1323.5L573.5 1321L575 1318.7L576.5 1316.4L578 1314.2L579.5 1312.1L581 1310.1L582.5 1308.2L584 1306.4L585.5 1304.7L587 1303.2L588.5 1301.8L590 1300.5L591.5 1299.3L593 1298.3L594.5 1297.5L596 1296.7L597.5 1296.2L599 1295.7L600.5 1295.4L602 1295.3L603.5 1295.3L605 1295.5L606.5 1295.8L608 1296.2L609.5 1296.8L611 1297.5L612.5 1298.4L614 1299.4L615.5 1300.6L617 1301.9L618.5 1303.3L620 1304.8L621.5 1306.5L623 1308.3L624.5 1310.2L626 1312.2L627.5 1314.3L629 1316.5L630.5 1318.8L632 1321.2L633.5 1323.6L635 1326.1L636.5 1328.7L638 1331.3L639.5 1333.9L641 1336.5L642.5 1339.1L644 1341.7L645.5 1344.2L647 1346.5L648.5 1348.7L650 1350.7L651.5 1352.4L653 1353.7L654.5 1354.5L656 1354.9L657.5 1354.7L659 1354.1L660.5 1352.9L662 1351.4L663.5 1349.5L665 1347.4L666.5 1345.1L668 1342.7L669.5 1340.2L671 1337.6L672.5 1335L674 1332.3L675.5 1329.7L677 1327.2L678.5 1324.6L680 1322.2L681.5 1319.8L683 1317.4L684.5 1315.2L686 1313L687.5 1311L689 1309L690.5 1307.2L692 1305.5L693.5 1303.9" stroke="#000000" stroke-dasharray="39.1 36.5"/>
<path d="M693.5 1303.9L693.5 1267.3L696.5 1266.3L699.5 1265.2L702.5 1264L705.5 1262.6L708.5 1261.2L711.5 1259.6L714.5 1258L717.5 1256.2L720.5 1254.2L723.5 1252.2L726.5 1250L729.5 1247.8L732.5 1245.4L735.4 1242.8L738.4 1239.9L741.4 1236.9L744.4 1233.5L747.4 1229.7L750.4 1225L753.4 1219.7L756.4 1214L759.4 1208.1L762.4 1202.2L765.4 1196.5L768.4 1191.4L771.4 1186.4L774.4 1181.5L777.4 1176.8L780.4 1172.3L783.4 1168L786.4 1163.9L789.4 1160L792.4 1156.1L795.4 1152.2L798.4 1148.4L801.4 1144.4L804.4 1140.2L807.4 1135.8L810.4 1131.2L813.4 1126.4L816.4 1121.4L819.4 1116.4L822.4 1111.3L825.4 1106.3L828.4 1101.5L831.4 1096.6L834.4 1091.8L837.4 1086.9L840.4 1082.1L843.4 1077.4L846.4 1072.7L849.4 1068.1L852.4 1063.5L855.4 1059L858.4 1054.5L861.4 1050.1L864.4 1045.7L867.4 1041.3L870.4 1037L873.4 1032.7L876.4 1028.4L879.4 1024.2L882.4 1020L885.4 1015.8L888.3 1011.7L891.3 1007.6L894.3 1003.6L897.3 999.7L900.3 995.9L903.3 992.1L906.3 988.4L909.3 984.6L912.3 980.9L915.3 977.3L918.3 973.7L921.3 970.1L924.3 966.6L927.3 963.1L930.3 959.7L933.3 956.3L936.3 952.9L939.3 949.6L942.3 946.4L945.3 943.2L948.3 940L951.3 936.9L954.3 933.8L957.3 930.6L960.3 927.5L963.3 924.5L966.3 921.4L969.3 918.4L972.3 915.5L975.3 912.6L978.3 909.7L981.3 906.9L984.3 904.2L987.3 901.6L990.3 899L993.3 896.5L996.3 894.1L999.3 891.8L1002.3 889.5L1005.3 887.4L1008.3 885.2L1011.3 883.1L1014.3 881L1017.3 878.9L1020.3 876.9L1023.3 875L1026.3 873L1029.3 871.1L1032.3 869.3L1035.3 867.5L1038.3 865.7L1041.2 864L1044.2 862.3L1047.2 860.7L1050.2 859.1L1053.2 857.6L1056.2 856.2L1059.2 854.8L1062.2 853.4L1065.2 852.1L1068.2 850.9L1071.2 849.6L1074.2 848.4L1077.2 847.2L1080.2 846.1L1083.2 845L1086.2 844L1089.2 843L1092.2 842.1L1095.2 841.3L1098.2 840.6L1101.2 839.9L1104.2 839.3L1107.2 838.7L1110.2 838.1L1113.2 837.5L1116.2 837L1119.2 836.5L1122.2 836.1L1125.2 835.7L1128.2 835.4L1131.2 835.2L1134.2 835.1L1137.2 835.1L1140.2 835.1L1143.2 835.2L1146.2 835.3L1149.2 835.3L1152.2 835.4L1155.2 835.6L1158.2 835.7L1161.2 835.8L1164.2 836L1167.2 836.2L1170.2 836.3L1173.2 836.5L1176.2 836.8L1179.2 837.2L1182.2 837.6L1185.2 838L1188.2 838.6L1191.1 839.1L1194.1 839.7L1197.1 840.3L1200.1 841L1203.1 841.7L1206.1 842.4L1209.1 843.1L1212.1 843.8L1215.1 844.7L1218.1 845.6L1221.1 846.6L1224.1 847.6L1227.1 848.7L1230.1 849.9L1233.1 851.1L1236.1 852.3L1239.1 853.6L1242.1 855L1245.1 856.4L1248.1 857.8L1251.1 859.3L1254.1 860.8L1257.1 862.3L1260.1 863.8L1263.1 865.4L1266.1 867L1269.1 868.5L1272.1 870.1L1275.1 871.7L1278.1 873.3L1281.1 875L1284.1 876.7L1287.1 878.4L1290.1 880.2L1293.1 882L1296.1 883.9L1299.1 885.9L1302.1 887.8L1305.1 889.8L1308.1 891.9L1311.1 893.9L1314.1 896L1317.1 898.2L1320.1 900.3L1323.1 902.5L1326.1 904.8L1329.1 907L1332.1 909.3L1335.1 911.6L1338.1 913.9L1341.1 916.2L1344 918.7L1347 921.1L1350 923.7L1353 926.3L1356 928.9L1359 931.6L1362 934.3L1365 937.1L1368 939.9L1371 942.7L1374 945.5L1377 948.3L1380 951.2L1383 954L1386 956.9L1389 959.7L1392 962.5L1395 965.3L1398 968.1L1401 971L1404 973.8L1407 976.6L1410 979.4L1413 982.3L1416 985.1L1419 988L1422 990.9L1425 993.8L1428 996.7L1431 999.7L1434 1002.6L1437 1005.6L1440 1008.6L1443 1011.6L1446 1014.6L1449 1017.7L1452 1020.8L1455 1023.9L1458 1027L1461 1030.2L1464 1033.4L1467 1036.6L1470 1039.8L1473 1043.1L1476 1046.3L1479 1049.6L1482 1052.9L1485 1056.2L1488 1059.4L1491 1062.7L1494 1066L1496.9 1069.3L1499.9 1072.7L1502.9 1076L1505.9 1079.3L1508.9 1082.7L1511.9 1086L1514.9 1089.4L1517.9 1092.8L1520.9 1096.2L1523.9 1099.6L1526.9 1103L1529.9 1106.4L1532.9 1109.8L1535.9 1113.2L1538.9 1116.6L1541.9 1120L1544.9 1123.5L1547.9 1126.9L1550.9 1130.3L1553.9 1133.8L1556.9 1137.2L1559.9 1140.7L1562.9 1144.1L1565.9 1147.6L1568.9 1151.1L1571.9 1154.5L1574.9 1158L1577.9 1161.5L1580.9 1165L1583.9 1168.4L1586.9 1171.9L1589.9 1175.3L1592.9 1178.8L1595.9 1182.2L1598.9 1185.7L1601.9 1189.2L1604.9 1192.7L1607.9 1196.2L1610.9 1199.7L1613.9 1203.2L1616.9 1206.7L1619.9 1210.2L1622.9 1213.7L1625.9 1217.1L1628.9 1220.5L1631.9 1223.9L1634.9 1227.3L1637.9 1230.6L1640.9 1233.8L1643.9 1237.1L1646.8 1240.3L1649.8 1243.5L1652.8 1246.6L1655.8 1249.8L1658.8 1253L1661.8 1256.1L1664.8 1259.3L1667.8 1262.4L1670.8 1265.4L1673.8 1268.4L1676.8 1271.4L1679.8 1274.3L1682.8 1277.2L1685.8 1279.9L1688.8 1282.7L1691.8 1285.3L1694.8 1287.9L1697.8 1290.3L1700.8 1292.5L1703.8 1294.6L1706.8 1296.5L1709.8 1298.4L1712.8 1300.4L1715.8 1302.5L1718.8 1304.6L1721.8 1307.1L1724.8 1309.7L1727.8 1313L1730.8 1314.7L1733.8 1316L1736.8 1317.1L1739.8 1317.9L1742.8 1318.6L1745.8 1319.3L1748.8 1320L1751.8 1320.7L1754.8 1321.2L1757.8 1321.6L1760.8 1321.6L1763.8 1321.4L1766.8 1321L1769.8 1320.4L1772.8 1319.7L1775.8 1319L1778.8 1318.1L1781.8 1316.9L1784.8 1315.5L1787.8 1314.1L1790.8 1312.6L1793.8 1311L1796.8 1309.3L1799.7 1307.4L1802.7 1305.5L1805.7 1303.5L1808.7 1301.4L1811.7 1299.3L1814.7 1297.1L1817.7 1294.9L1820.7 1292.8L1823.7 1290.6L1826.7 1288.5L1829.7 1286.4L1832.7 1284.2L1835.7 1282.1L1838.7 1279.8L1841.7 1277.6L1844.7 1275.4L1847.7 1273.1L1850.7 1270.8L1853.7 1268.5L1856.7 1266.2L1859.7 1263.9L1862.7 1261.7L1865.7 1259.4L1868.7 1257.1L1871.7 1254.8L1874.7 1252.6L1877.7 1250.3L1880.7 1248.1L1883.7 1245.9L1886.7 1243.8L1889.7 1241.6L1892.7 1239.5L1895.7 1237.3L1898.7 1235.1L1901.7 1233L1904.7 1230.8L1907.7 1228.6L1910.7 1226.5L1913.7 1224.4L1916.7 1222.2L1919.7 1220.1L1922.7 1218L1925.7 1216L1928.7 1213.9L1931.7 1211.9L1934.7 1209.9L1937.7 1208L1940.7 1206L1943.7 1204.1L1946.7 1202.3L1949.7 1200.4L1952.6 1198.6L1955.6 1196.7L1958.6 1194.9L1961.6 1193.1L1964.6 1191.3L1967.6 1189.5L1970.6 1187.7L1973.6 1186L1976.6 1184.2L1979.6 1182.5L1982.6 1180.8L1985.6 1179.2L1988.6 1177.5L1991.6 1175.9L1994.6 1174.4L1997.6 1172.8L2000.6 1171.3L2003.6 1169.9L2006.6 1168.4L2009.6 1167.1L2012.6 1165.7L2015.6 1164.4L2018.6 1163.1L2021.6 1161.8L2024.6 1160.5L2027.6 1159.2L2030.6 1157.9L2033.6 1156.7L2036.6 1155.5L2039.6 1154.3L2042.6 1153.1L2045.6 1152L2048.6 1150.8L2051.6 1149.7L2054.6 1148.6L2057.6 1147.6L2060.6 1146.6L2063.6 1145.6L2066.6 1144.6L2069.6 1143.6L2072.6 1142.7L2075.6 1141.9L2078.6 1141L2081.6 1140.2L2084.6 1139.4L2087.6 1138.6L2090.6 1137.8L2093.6 1137.1L2096.6 1136.3L2099.6 1135.6L2102.5 1134.8L2105.5 1134.1L2108.5 1133.4L2111.5 1132.8L2114.5 1132.1L2117.5 1131.5L2120.5 1130.8L2123.5 1130.2L2126.5 1129.6L2129.5 1129L2132.5 1128.5L2135.5 1127.9L2138.5 1127.4L2141.5 1126.9L2144.5 1126.4L2147.5 1125.9L2150.5 1125.4L2153.5 1125L2156.5 1124.6L2159.5 1124.2L2162.5 1123.8L2165.5 1123.4L2168.5 1123.1L2171.5 1122.7L2174.5 1122.4L2177.5 1122.2" stroke="#000000" stroke-dasharray="38.3 35.7" stroke-dashoffset="8"/>
</g>
<g><text transform="translate(260.52 110.70) scale(0.9994 1)" font-family="'Liberation Sans', sans-serif" font-size="76.90" fill="#262626">×</text><text transform="translate(311.17 101.50) scale(0.9536 1)" font-family="'Liberation Sans', sans-serif" font-size="67.60" fill="#262626">10</text><text transform="translate(385.66 71.10) scale(0.9954 1)" font-family="'Liberation Sans', sans-serif" font-size="54.50" fill="#262626">-3</text></g>
<g><text transform="translate(192.04 143.60) scale(1.0000 1)" font-family="'Liberation Sans', sans-serif" font-size="67.60" fill="#262626">4</text>
<text transform="translate(136.61 301.16) scale(1.0000 1)" font-family="'Liberation Sans', sans-serif" font-size="67.60" fill="#262626">3.5</text>
<text transform="translate(193.06 458.73) scale(1.0000 1)" font-family="'Liberation Sans', sans-serif" font-size="67.60" fill="#262626">3</text>
<text transform="translate(136.61 616.29) scale(1.0000 1)" font-family="'Liberation Sans', sans-serif" font-size="67.60" fill="#262626">2.5</text>
<text transform="translate(193.56 773.85) scale(1.0000 1)" font-family="'Liberation Sans', sans-serif" font-size="67.60" fill="#262626">2</text>
<text transform="translate(136.61 931.41) scale(1.0000 1)" font-family="'Liberation Sans', sans-serif" font-size="67.60" fill="#262626">1.5</text>
<text transform="translate(193.39 1088.97) scale(1.0000 1)" font-family="'Liberation Sans', sans-serif" font-size="67.60" fill="#262626">1</text>
<text transform="translate(136.61 1246.54) scale(1.0000 1)" font-family="'Liberation Sans', sans-serif" font-size="67.60" fill="#262626">0.5</text>
<text transform="translate(192.72 1404.10) scale(1.0000 1)" font-family="'Liberation Sans', sans-serif" font-size="67.60" fill="#262626">0</text></g>
<g><text transform="translate(96.60 839.82) rotate(-90) scale(1.1339 1)" font-family="'Liberation Serif', serif" font-style="italic" font-size="73.70" fill="#262626" stroke="#262626" stroke-width="0.6">η</text> <text transform="translate(96.50 770.67) rotate(-90) scale(0.8221 1)" font-family="'Liberation Serif', serif" font-size="83.00" fill="#262626" stroke="#262626" stroke-width="0.6">(</text><text transform="translate(96.10 746.48) rotate(-90) scale(1.0867 1)" font-family="'Liberation Serif', serif" font-size="72.50" fill="#262626" stroke="#262626" stroke-width="0.6">m</text><text transform="translate(96.50 683.28) rotate(-90) scale(0.8095 1)" font-family="'Liberation Serif', serif" font-size="83.00" fill="#262626" stroke="#262626" stroke-width="0.6">)</text></g>
<g><text transform="translate(284.26 1468.40) scale(0.9989 1)" font-family="'Liberation Sans', sans-serif" font-size="67.60" fill="#262626">-0.2</text>
<text transform="translate(673.05 1468.40) scale(0.9790 1)" font-family="'Liberation Sans', sans-serif" font-size="67.60" fill="#262626">0</text>
<text transform="translate(995.34 1468.40) scale(0.9820 1)" font-family="'Liberation Sans', sans-serif" font-size="67.60" fill="#262626">0.2</text>
<text transform="translate(1343.92 1468.40) scale(0.9907 1)" font-family="'Liberation Sans', sans-serif" font-size="67.60" fill="#262626">0.4</text>
<text transform="translate(1693.43 1468.40) scale(0.9873 1)" font-family="'Liberation Sans', sans-serif" font-size="67.60" fill="#262626">0.6</text>
<text transform="translate(2042.43 1468.40) scale(0.9866 1)" font-family="'Liberation Sans', sans-serif" font-size="67.60" fill="#262626">0.8</text></g>
<g><text transform="translate(1127.54 1552.10) scale(1.1512 1)" font-family="'Liberation Serif', serif" font-style="italic" font-size="72.00" fill="#262626" stroke="#262626" stroke-width="0.6">x</text> <text transform="translate(1195.15 1553.10) scale(0.8204 1)" font-family="'Liberation Serif', serif" font-size="82.70" fill="#262626" stroke="#262626" stroke-width="0.6">(</text><text transform="translate(1220.21 1552.10) scale(1.1325 1)" font-family="'Liberation Serif', serif" font-size="70.40" fill="#262626" stroke="#262626" stroke-width="0.6">m</text><text transform="translate(1282.62 1553.10) scale(0.8500 1)" font-family="'Liberation Serif', serif" font-size="82.70" fill="#262626" stroke="#262626" stroke-width="0.6">)</text></g>
<rect x="1430.0" y="130.0" width="729.0" height="392.0" fill="#fff" stroke="#262626" stroke-width="4.0"/>
<g><path d="M1445.0 174.5H1601.0" stroke="#0000ff" stroke-width="11.5" stroke-dasharray="10.4 8.1" fill="none"/><text transform="translate(1613.80 189.80) scale(0.9735 1)" font-family="'Liberation Serif', serif" font-size="67.80" fill="#000000">|</text><text transform="translate(1628.14 190.00) scale(1.1590 1)" font-family="'Liberation Serif', serif" font-style="italic" font-size="60.60" fill="#000000" stroke="#000" stroke-width="0.7">η</text><text transform="translate(1659.40 198.90) scale(0.9229 1)" font-family="'Liberation Serif', serif" font-size="45.80" fill="#000000" stroke="#000" stroke-width="0.7">1</text><text transform="translate(1686.10 189.80) scale(0.9735 1)" font-family="'Liberation Serif', serif" font-size="67.80" fill="#000000">|</text> <text transform="translate(1721.30 190.00) scale(1.0247 1)" font-family="'Liberation Serif', serif" font-size="65.20" fill="#000000" stroke="#000" stroke-width="0.7">Multi-modal</text></g>
<g><path d="M1445.0 250.25H1601.0" stroke="#ff00ff" stroke-width="11.5" stroke-dasharray="38.3 8.5 18.7 8.5" fill="none"/><text transform="translate(1613.80 265.55) scale(0.9735 1)" font-family="'Liberation Serif', serif" font-size="67.80" fill="#000000">|</text><text transform="translate(1628.14 265.75) scale(1.1590 1)" font-family="'Liberation Serif', serif" font-style="italic" font-size="60.60" fill="#000000" stroke="#000" stroke-width="0.7">η</text><text transform="translate(1658.77 274.65) scale(1.0317 1)" font-family="'Liberation Serif', serif" font-size="45.80" fill="#000000" stroke="#000" stroke-width="0.7">2</text><text transform="translate(1686.10 265.55) scale(0.9735 1)" font-family="'Liberation Serif', serif" font-size="67.80" fill="#000000">|</text> <text transform="translate(1721.30 265.75) scale(1.0247 1)" font-family="'Liberation Serif', serif" font-size="65.20" fill="#000000" stroke="#000" stroke-width="0.7">Multi-modal</text></g>
<g><path d="M1445.0 326.0H1601.0" stroke="#0000ff" stroke-width="11.5" fill="none"/><text transform="translate(1613.80 341.30) scale(0.9735 1)" font-family="'Liberation Serif', serif" font-size="67.80" fill="#000000">|</text><text transform="translate(1628.14 341.50) scale(1.1590 1)" font-family="'Liberation Serif', serif" font-style="italic" font-size="60.60" fill="#000000" stroke="#000" stroke-width="0.7">η</text><text transform="translate(1659.40 350.40) scale(0.9229 1)" font-family="'Liberation Serif', serif" font-size="45.80" fill="#000000" stroke="#000" stroke-width="0.7">1</text><text transform="translate(1686.10 341.30) scale(0.9735 1)" font-family="'Liberation Serif', serif" font-size="67.80" fill="#000000">|</text> <text transform="translate(1720.73 341.50) scale(1.0558 1)" font-family="'Liberation Serif', serif" font-size="65.20" fill="#000000" stroke="#000" stroke-width="0.7">Exp.</text></g>
<g><path d="M1445.0 401.75H1601.0" stroke="#ff0000" stroke-width="11.5" fill="none"/><text transform="translate(1613.80 417.05) scale(0.9735 1)" font-family="'Liberation Serif', serif" font-size="67.80" fill="#000000">|</text><text transform="translate(1628.14 417.25) scale(1.1590 1)" font-family="'Liberation Serif', serif" font-style="italic" font-size="60.60" fill="#000000" stroke="#000" stroke-width="0.7">η</text><text transform="translate(1658.77 426.15) scale(1.0317 1)" font-family="'Liberation Serif', serif" font-size="45.80" fill="#000000" stroke="#000" stroke-width="0.7">2</text><text transform="translate(1686.10 417.05) scale(0.9735 1)" font-family="'Liberation Serif', serif" font-size="67.80" fill="#000000">|</text> <text transform="translate(1720.73 417.25) scale(1.0558 1)" font-family="'Liberation Serif', serif" font-size="65.20" fill="#000000" stroke="#000" stroke-width="0.7">Exp.</text></g>
<g><path d="M1445.0 477.5H1601.0" stroke="#000000" stroke-width="11.5" stroke-dasharray="38.3 35.7" fill="none"/><text transform="translate(1613.80 492.80) scale(0.9735 1)" font-family="'Liberation Serif', serif" font-size="67.80" fill="#000000">|</text><text transform="translate(1628.14 493.00) scale(1.1590 1)" font-family="'Liberation Serif', serif" font-style="italic" font-size="60.60" fill="#000000" stroke="#000" stroke-width="0.7">η</text><text transform="translate(1658.77 501.90) scale(1.0317 1)" font-family="'Liberation Serif', serif" font-size="45.80" fill="#000000" stroke="#000" stroke-width="0.7">2</text><text transform="translate(1686.10 492.80) scale(0.9735 1)" font-family="'Liberation Serif', serif" font-size="67.80" fill="#000000">|</text> <text transform="translate(1721.28 493.00) scale(1.0343 1)" font-family="'Liberation Serif', serif" font-size="65.20" fill="#000000" stroke="#000" stroke-width="0.7">M.-M. surf tens</text></g>
</svg></body></html>
